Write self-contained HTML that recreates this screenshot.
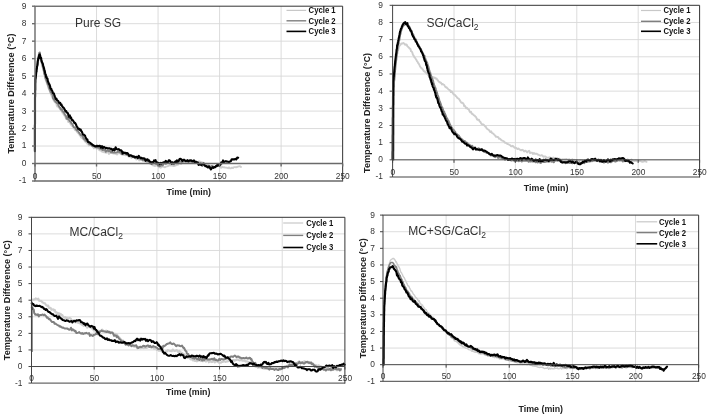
<!DOCTYPE html>
<html><head><meta charset="utf-8"><title>Temperature difference cycles</title>
<style>
html,body{margin:0;padding:0;background:#fff;}
svg{display:block;font-family:"Liberation Sans", sans-serif;}
.g{stroke:#d8d8d8;stroke-width:0.9;}
.f{stroke:#333;stroke-width:1;}
.a{stroke:#555;stroke-width:1;}
.t{font-size:8.4px;fill:#333;}
.b{font-size:9px;font-weight:bold;fill:#222;}
.l{font-size:8.8px;font-weight:bold;fill:#111;}
.h{font-size:12px;fill:#333;}
</style></head><body>
<svg width="708" height="415" viewBox="0 0 708 415">
<rect width="708" height="415" fill="#fff"/>
<g><line x1="35.0" x2="342.65" y1="146.04" y2="146.04" class="g"/>
<line x1="35.0" x2="342.65" y1="128.56" y2="128.56" class="g"/>
<line x1="35.0" x2="342.65" y1="111.08" y2="111.08" class="g"/>
<line x1="35.0" x2="342.65" y1="93.60" y2="93.60" class="g"/>
<line x1="35.0" x2="342.65" y1="76.12" y2="76.12" class="g"/>
<line x1="35.0" x2="342.65" y1="58.64" y2="58.64" class="g"/>
<line x1="35.0" x2="342.65" y1="41.16" y2="41.16" class="g"/>
<line x1="35.0" x2="342.65" y1="23.68" y2="23.68" class="g"/>
<line x1="96.53" x2="96.53" y1="6.2" y2="181.0" class="g"/>
<line x1="158.06" x2="158.06" y1="6.2" y2="181.0" class="g"/>
<line x1="219.59" x2="219.59" y1="6.2" y2="181.0" class="g"/>
<line x1="281.12" x2="281.12" y1="6.2" y2="181.0" class="g"/>
<polyline points="34.9,150.9 34.9,148.7 34.9,147.7 34.9,146.4 34.9,146.5 34.9,143.7 34.9,144.9 34.9,142.5 34.9,142.1 34.9,140.8 34.9,140.8 34.9,137.8 34.9,137.8 34.9,136.7 34.9,136.6 34.9,134.3 34.9,133.8 34.9,132.4 34.9,131.9 34.9,131.2 34.9,129.3 34.9,129.5 34.9,128.4 34.9,127.2 34.9,126.4 35.0,124.5 35.0,123.8 35.0,122.4 35.0,121.7 35.0,121.1 35.0,119.5 35.0,118.6 35.0,117.5 35.0,116.4 35.0,115.5 35.0,114.8 35.0,113.2 35.0,112.9 35.0,112.7 35.0,111.2 35.0,109.7 35.0,108.3 35.0,107.4 35.0,107.7 35.0,105.8 35.0,104.4 35.0,103.9 35.0,103.9 35.0,101.8 35.0,101.1 35.0,99.9 35.0,98.6 35.0,97.1 35.0,96.5 35.1,95.6 35.1,95.0 35.1,94.2 35.1,93.2 35.1,91.9 35.1,91.2 35.2,89.3 35.2,89.4 35.2,88.0 35.2,86.5 35.2,86.0 35.2,84.6 35.2,84.3 35.3,83.5 35.3,82.9 35.3,79.9 35.3,78.9 35.4,78.4 35.6,77.7 35.7,77.1 35.8,75.8 35.9,73.5 36.0,73.5 36.1,73.1 36.2,71.8 36.3,71.1 36.4,69.5 36.6,68.6 36.7,67.8 36.9,66.9 37.0,65.8 37.2,64.8 37.3,63.3 37.5,62.9 37.6,61.8 37.8,61.3 37.9,60.4 38.1,58.8 38.3,57.5 38.5,56.4 38.7,56.0 38.9,54.8 39.1,53.6 39.3,52.8 39.5,53.0 39.7,54.7 39.9,55.1 40.1,57.0 40.3,57.5 40.5,58.6 40.7,58.7 40.9,60.3 41.2,61.6 41.4,61.7 41.6,63.0 41.9,64.2 42.1,64.4 42.3,66.3 42.6,67.5 42.8,67.6 43.1,69.2 43.3,69.3 43.5,71.0 43.8,71.1 44.0,73.6 44.2,74.1 44.5,74.9 44.7,75.4 45.0,77.5 45.2,78.9 45.5,77.7 45.8,80.4 46.1,81.6 46.4,81.8 46.7,82.0 47.0,84.0 47.3,84.4 47.6,85.2 48.0,85.8 48.3,87.7 48.7,88.8 49.0,88.9 49.4,90.5 49.7,90.5 50.1,92.5 50.4,93.0 50.8,93.8 51.2,94.8 51.7,96.2 52.1,97.1 52.5,97.9 52.9,98.6 53.4,99.5 53.8,100.7 54.3,101.3 54.9,102.4 55.5,102.6 56.1,102.3 56.6,105.0 57.2,106.5 57.8,106.3 58.4,106.8 59.0,107.6 59.6,108.5 60.2,109.4 60.7,109.5 61.3,110.7 61.9,111.3 62.5,112.8 63.1,113.3 63.6,114.5 64.2,115.0 64.8,116.4 65.4,116.8 66.0,118.7 66.6,117.3 67.2,118.8 67.8,120.4 68.4,122.1 69.0,121.4 69.6,122.4 70.2,123.0 70.8,124.7 71.4,124.6 72.0,126.0 72.6,126.2 73.2,126.5 73.8,128.1 74.5,129.0 75.1,130.2 75.8,130.2 76.5,130.7 77.1,132.1 77.8,132.7 78.4,133.5 79.1,134.0 79.7,135.5 80.4,135.8 81.0,137.4 81.7,137.8 82.3,138.3 83.0,137.8 83.7,139.7 84.3,140.4 85.0,141.3 85.7,142.2 86.4,142.1 87.1,143.5 87.8,143.4 88.7,145.4 89.5,144.1 90.3,144.4 91.2,145.1 92.0,146.0 93.0,146.3 93.9,148.3 94.8,147.5 95.8,147.3 96.7,149.0 97.6,148.5 98.5,148.6 99.4,150.2 100.3,150.5 101.2,150.4 102.1,151.8 103.1,151.3 104.1,152.4 105.0,152.0 106.0,152.9 107.0,152.3 108.0,151.8 108.9,154.0 109.9,152.6 110.9,153.0 111.9,152.9 112.9,153.4 113.9,153.6 114.9,153.6 115.9,153.9 116.9,154.5 117.9,153.4 118.9,153.0 119.9,153.2 120.9,153.7 121.8,153.3 122.8,154.9 123.8,154.5 124.8,154.9 125.7,155.3 126.7,154.8 127.6,155.4 128.6,156.6 129.6,156.8 130.5,156.5 131.5,158.0 132.5,156.6 133.4,157.4 134.4,157.8 135.4,156.6 136.3,159.5 137.3,158.9 138.3,158.4 139.2,160.4 140.2,159.9 141.2,160.1 142.1,159.8 143.1,160.5 144.0,159.9 145.0,161.4 145.9,161.2 146.8,162.0 147.7,163.0 148.6,163.0 149.5,163.4 150.4,163.8 151.3,163.6 152.3,164.9 153.2,165.6 154.1,165.6 155.1,166.0 156.0,165.3 157.0,165.6 158.0,165.6 158.9,167.4 159.9,166.8 160.9,167.7 161.9,166.5 162.9,166.6 163.9,166.9 164.9,167.3 165.9,166.6 166.9,166.4 167.8,166.1 168.8,165.9 169.8,164.9 170.8,165.6 171.8,165.6 172.8,165.7 173.8,166.1 174.8,165.6 175.7,165.6 176.5,164.9 177.4,164.8 178.2,164.5 179.1,163.0 180.0,163.3 181.0,163.9 181.9,161.8 182.9,162.0 183.9,161.7 184.9,161.9 185.9,162.8 186.9,161.8 187.9,161.3 188.9,162.0 189.9,161.2 190.9,162.1 191.9,161.7 192.9,162.3 193.9,161.1 194.9,163.2 195.9,162.0 196.9,162.1 197.9,161.8 198.9,161.5 199.9,161.5 200.9,162.2 201.8,162.1 202.8,163.0 203.8,162.7 204.7,163.8 205.7,164.3 206.6,163.8 207.5,165.2 208.5,164.8 209.4,165.9 210.3,165.9 211.3,166.6 212.3,165.7 213.2,166.5 214.2,167.7 215.1,166.9 216.1,166.4 217.1,166.3 218.1,165.9 219.1,166.1 220.1,166.9 221.1,167.8 222.1,166.8 223.1,167.4 224.1,167.3 225.1,167.5 226.0,167.6 227.0,167.7 228.0,168.3 229.0,167.3 230.0,168.4 231.0,168.3 232.0,167.6 233.0,168.0 234.0,167.1 235.0,167.1 236.0,167.3 237.0,167.0 238.0,166.7 239.0,166.4 240.0,166.3 241.0,167.0" fill="none" stroke="#cdcdcd" stroke-width="1.9" stroke-linejoin="round" stroke-linecap="round"/>
<polyline points="34.9,149.8 34.9,149.0 34.9,146.8 34.9,147.9 34.9,145.0 34.9,144.5 34.9,144.2 34.9,142.3 34.9,141.4 34.9,140.5 34.9,140.3 34.9,140.2 34.9,138.0 34.9,136.3 34.9,136.2 34.9,134.6 34.9,133.9 34.9,133.6 34.9,131.5 34.9,130.9 34.9,129.4 34.9,128.8 34.9,128.0 34.9,126.3 34.9,125.7 35.0,124.7 35.0,123.5 35.0,122.2 35.0,121.1 35.0,120.8 35.0,119.7 35.0,120.1 35.0,116.5 35.0,116.9 35.0,116.0 35.0,115.6 35.0,114.1 35.0,112.4 35.0,111.8 35.0,111.1 35.0,109.6 35.0,109.2 35.0,106.8 35.0,107.7 35.0,106.6 35.0,104.6 35.0,104.1 35.0,102.8 35.0,101.3 35.0,100.8 35.0,100.3 35.0,98.5 35.0,97.5 35.0,96.7 35.1,96.0 35.1,95.4 35.1,93.4 35.1,93.0 35.1,91.8 35.1,89.7 35.2,89.5 35.2,88.6 35.2,87.7 35.2,86.9 35.2,84.6 35.2,84.7 35.2,83.3 35.3,81.9 35.3,82.0 35.3,81.1 35.3,79.3 35.5,79.1 35.6,77.4 35.7,76.7 35.8,75.1 35.9,75.5 36.0,72.2 36.2,72.6 36.3,72.1 36.4,69.6 36.5,69.6 36.6,68.6 36.8,68.1 37.0,67.4 37.1,65.5 37.3,63.9 37.4,64.5 37.6,63.4 37.7,61.5 37.9,60.9 38.0,59.9 38.2,59.1 38.4,57.9 38.6,57.5 38.8,54.8 39.0,55.4 39.2,54.0 39.4,52.7 39.6,53.4 39.8,52.4 40.0,55.3 40.2,55.9 40.5,56.0 40.7,57.9 40.9,58.5 41.1,61.0 41.3,61.6 41.6,61.8 41.8,62.2 42.0,63.2 42.3,64.3 42.5,65.2 42.7,66.0 43.0,67.1 43.2,68.3 43.5,69.1 43.7,70.0 43.9,70.8 44.2,73.7 44.4,72.5 44.7,73.7 44.9,75.5 45.1,76.0 45.4,77.4 45.7,78.6 46.1,79.8 46.4,80.5 46.7,80.5 47.0,82.6 47.3,81.9 47.6,83.8 47.9,84.5 48.3,85.2 48.7,87.0 49.1,87.5 49.4,89.1 49.8,88.7 50.2,90.9 50.5,91.6 50.9,92.4 51.3,92.4 51.8,94.0 52.2,94.2 52.6,94.8 53.1,98.6 53.5,98.3 53.9,99.6 54.4,99.3 54.9,100.8 55.5,101.6 56.1,102.3 56.7,102.8 57.3,103.5 57.9,103.3 58.5,105.6 59.1,106.3 59.6,107.5 60.2,107.6 60.8,109.5 61.4,109.1 62.0,109.5 62.5,111.5 63.1,111.6 63.7,112.0 64.3,113.5 64.9,114.7 65.5,115.2 66.1,116.2 66.7,118.9 67.3,117.9 67.9,119.1 68.5,118.0 69.1,120.1 69.7,121.2 70.2,121.3 70.8,121.9 71.4,123.4 72.0,123.8 72.6,124.5 73.2,126.2 73.8,127.1 74.5,127.3 75.1,127.7 75.8,129.0 76.4,129.9 77.1,130.6 77.7,130.2 78.4,131.6 79.0,132.7 79.7,133.6 80.3,134.6 81.0,135.3 81.6,135.0 82.3,136.0 82.9,136.5 83.6,138.9 84.3,138.7 85.0,139.7 85.6,140.7 86.3,140.6 87.0,140.9 87.7,142.1 88.5,142.8 89.3,144.3 90.1,144.5 91.0,144.0 91.8,145.5 92.6,146.2 93.5,145.6 94.5,146.5 95.4,145.9 96.3,147.5 97.3,147.5 98.2,147.3 99.1,148.0 100.1,148.9 101.0,148.8 102.0,149.6 102.9,150.1 103.9,149.6 104.9,150.1 105.8,151.7 106.8,150.8 107.8,150.5 108.8,151.2 109.8,150.6 110.8,152.2 111.7,152.0 112.7,152.5 113.7,152.5 114.7,152.3 115.7,152.6 116.7,152.3 117.7,151.8 118.7,151.8 119.7,152.4 120.7,151.5 121.6,154.2 122.6,152.5 123.6,153.6 124.5,153.2 125.5,153.1 126.5,154.5 127.4,154.7 128.4,155.0 129.3,155.7 130.3,155.4 131.3,156.3 132.2,156.6 133.2,156.5 134.1,156.8 135.1,157.5 136.1,157.5 137.1,157.8 138.0,156.6 139.0,158.2 140.0,158.7 140.9,158.7 141.9,159.3 142.9,160.4 143.8,159.7 144.8,160.3 145.7,159.9 146.6,160.3 147.5,161.0 148.4,161.1 149.3,162.1 150.2,162.0 151.2,162.8 152.1,162.3 153.1,162.5 154.1,163.3 155.0,163.4 156.0,163.9 156.9,164.2 157.9,164.7 158.9,165.7 159.8,166.2 160.8,165.7 161.8,164.8 162.7,165.5 163.7,163.6 164.6,163.0 165.6,163.9 166.5,163.4 167.5,162.9 168.4,162.7 169.3,161.4 170.3,161.4 171.2,163.0 172.2,163.2 173.1,162.5 174.1,164.3 175.1,162.9 176.0,162.8 176.9,162.9 177.9,161.7 178.8,161.7 179.7,161.5 180.7,161.3 181.7,162.0 182.7,161.8 183.7,160.9 184.7,161.1 185.7,161.5 186.7,161.3 187.7,160.8 188.7,161.4 189.7,161.5 190.7,160.8 191.7,161.9 192.7,160.8 193.6,161.1 194.6,162.5 195.6,162.0 196.5,162.2 197.5,162.9 198.5,162.9 199.5,163.7 200.4,163.0 201.4,163.8 202.4,166.0 203.3,164.6 204.3,163.8 205.3,165.4 206.2,165.7 207.2,166.5 208.1,166.1 209.1,166.0 210.0,167.5 211.0,167.4 212.0,165.9 213.0,167.2 214.0,166.6 215.0,167.2 216.0,166.3" fill="none" stroke="#808080" stroke-width="1.9" stroke-linejoin="round" stroke-linecap="round"/>
<polyline points="34.9,151.2 34.9,149.3 34.9,148.1 34.9,145.8 34.9,145.8 34.9,144.8 34.9,143.9 34.9,142.6 34.9,141.9 34.9,140.7 34.9,139.1 34.9,139.5 34.9,138.5 34.9,138.1 34.9,136.0 34.9,134.7 34.9,133.6 34.9,131.9 34.9,132.6 34.9,130.2 34.9,129.2 34.9,128.8 34.9,128.9 34.9,127.1 34.9,125.2 35.0,124.4 35.0,124.3 35.0,122.8 35.0,121.4 35.0,120.7 35.0,120.4 35.0,120.2 35.0,117.1 35.0,116.5 35.0,115.4 35.0,113.3 35.0,113.3 35.0,112.2 35.0,112.6 35.0,110.8 35.0,108.8 35.0,109.3 35.0,107.6 35.0,105.7 35.0,105.5 35.0,104.5 35.0,103.3 35.0,102.9 35.0,100.4 35.0,100.7 35.0,100.5 35.0,99.4 35.0,98.5 35.0,97.5 35.1,96.8 35.1,94.1 35.1,94.4 35.1,91.6 35.1,91.4 35.1,89.5 35.2,90.5 35.2,89.6 35.2,87.7 35.2,87.9 35.2,85.3 35.2,84.9 35.2,83.9 35.3,82.1 35.3,82.0 35.3,82.0 35.3,79.1 35.5,79.3 35.6,77.7 35.7,77.9 35.8,76.1 36.0,75.2 36.1,74.2 36.2,72.9 36.4,70.9 36.5,71.7 36.6,68.9 36.8,69.0 36.9,68.2 37.1,66.3 37.3,65.9 37.4,65.6 37.6,63.8 37.7,62.3 37.9,60.0 38.1,60.3 38.2,59.5 38.4,58.6 38.6,57.3 38.9,57.2 39.1,55.6 39.3,54.9 39.5,54.5 39.8,54.4 40.1,55.7 40.4,58.3 40.8,58.4 41.1,57.9 41.4,59.7 41.7,61.0 42.0,62.4 42.3,62.7 42.6,63.2 42.9,64.0 43.2,65.9 43.5,66.6 43.7,67.1 44.0,68.2 44.2,69.1 44.5,70.8 44.8,70.8 45.0,72.6 45.3,73.8 45.5,74.5 45.8,74.6 46.0,77.0 46.4,76.6 46.8,78.3 47.1,78.4 47.5,78.7 47.8,81.0 48.2,81.9 48.5,82.6 48.9,83.8 49.3,84.1 49.7,85.0 50.1,86.3 50.5,88.5 50.9,88.8 51.3,88.8 51.7,90.4 52.1,90.7 52.5,91.6 53.0,93.3 53.4,93.3 53.9,93.5 54.3,94.9 54.8,96.4 55.2,97.4 55.7,99.0 56.3,98.5 57.0,100.2 57.6,100.7 58.3,101.1 58.9,102.5 59.6,103.1 60.2,102.9 60.9,105.0 61.4,104.3 62.0,106.0 62.6,106.7 63.2,107.8 63.8,107.9 64.4,109.2 64.9,109.9 65.5,111.5 66.2,111.1 66.8,112.5 67.4,113.0 68.0,113.2 68.6,116.6 69.2,115.6 69.8,115.4 70.4,118.1 71.0,117.3 71.5,119.1 72.1,120.2 72.7,120.1 73.3,121.0 73.8,121.8 74.4,122.9 75.0,122.7 75.6,123.8 76.3,125.3 76.9,126.8 77.5,127.3 78.1,128.8 78.8,128.9 79.4,128.9 80.0,130.0 80.6,129.5 81.2,131.0 81.9,131.8 82.5,133.4 83.1,134.5 83.7,134.5 84.3,135.2 84.9,135.4 85.5,137.2 86.1,138.2 86.7,139.2 87.3,139.2 87.9,141.8 88.5,142.1 89.0,142.0 89.7,142.5 90.6,143.2 91.4,144.0 92.2,144.5 93.1,145.3 94.1,145.7 95.0,146.3 96.0,146.4 97.0,145.7 98.0,146.3 99.0,145.9 100.0,145.9 101.0,147.6 102.0,146.2 102.9,148.1 103.9,146.8 104.9,147.5 105.8,148.4 106.8,147.9 107.7,148.5 108.7,148.3 109.7,148.4 110.6,148.9 111.6,148.9 112.6,150.4 113.6,149.1 114.6,150.3 115.6,147.3 116.6,149.1 117.6,149.5 118.6,149.1 119.6,150.1 120.4,150.2 121.2,150.3 122.0,151.4 122.7,153.6 123.6,152.4 124.5,152.9 125.4,152.8 126.3,153.6 127.3,153.0 128.2,154.0 129.2,156.0 130.1,155.4 131.1,155.4 132.1,156.0 133.0,156.8 134.0,156.3 135.0,157.5 135.9,157.1 136.9,156.8 137.8,158.2 138.8,155.9 139.7,157.3 140.7,158.2 141.6,157.8 142.6,158.5 143.6,158.3 144.6,158.5 145.6,160.8 146.6,159.6 147.6,159.3 148.4,160.7 149.1,160.4 149.9,161.8 150.7,162.1 151.4,163.5 152.2,162.2 152.9,163.2 153.5,162.0 154.1,160.4 154.7,161.0 155.5,160.1 156.3,162.3 157.1,162.2 157.9,162.9 158.7,163.1 159.5,164.2 160.4,162.8 161.3,163.6 162.2,162.7 163.1,162.9 164.0,162.2 164.9,162.2 165.8,160.9 166.8,162.3 167.7,162.3 168.7,160.4 169.6,160.3 170.3,161.2 171.0,162.5 171.7,163.7 172.4,162.3 173.1,163.4 173.9,163.0 174.6,162.3 175.4,161.3 176.2,162.0 176.9,160.3 177.8,161.6 178.7,160.8 179.6,159.1 180.5,158.8 181.5,159.4 182.4,161.0 183.4,159.9 184.3,159.8 185.3,160.9 186.3,161.0 187.3,160.2 188.3,161.5 189.3,160.4 190.2,160.7 191.1,160.2 192.1,161.1 193.0,161.4 193.9,160.4 194.9,162.4 195.8,161.5 196.7,163.0 197.7,162.4 198.6,164.9 199.6,164.1 200.6,164.8 201.5,165.1 202.5,163.9 203.5,163.6 204.4,165.1 205.4,166.2 206.3,166.1 207.2,167.0 208.1,167.5 209.0,166.3 210.0,167.9 210.9,169.4 211.8,168.1 212.7,167.1 213.6,167.8 214.4,167.1 215.3,167.2 216.2,165.9 217.0,166.0 217.9,164.0 218.8,165.5 219.6,165.4 220.5,164.7 221.3,162.4 222.2,163.1 223.1,160.4 223.9,162.0 224.9,161.7 225.9,161.0 226.9,161.8 227.9,161.6 228.9,162.1 229.9,161.5 230.8,161.2 231.7,159.3 232.6,159.4 233.5,159.3 234.4,159.4 235.3,158.8 236.3,159.5 237.2,157.6 238.2,157.7" fill="none" stroke="#000" stroke-width="2.1" stroke-linejoin="round" stroke-linecap="round"/>

<polyline points="34.5,6.2 342.65,6.2 342.65,181.5" fill="none" class="f"/>
<polyline points="35.0,6.2 35.0,181.0 342.65,181.0" fill="none" stroke="#6a6a6a" stroke-width="1.4"/>
<line x1="35.0" x2="342.65" y1="163.52" y2="163.52" stroke="#6a6a6a" stroke-width="1.4"/>
<line x1="32.0" x2="35.0" y1="181.00" y2="181.00" stroke="#6a6a6a" stroke-width="1.4"/>
<text x="26.3" y="183.4" class="t" text-anchor="end">-1</text>
<line x1="32.0" x2="35.0" y1="163.52" y2="163.52" stroke="#6a6a6a" stroke-width="1.4"/>
<text x="26.3" y="165.9" class="t" text-anchor="end">0</text>
<line x1="32.0" x2="35.0" y1="146.04" y2="146.04" stroke="#6a6a6a" stroke-width="1.4"/>
<text x="26.3" y="148.4" class="t" text-anchor="end">1</text>
<line x1="32.0" x2="35.0" y1="128.56" y2="128.56" stroke="#6a6a6a" stroke-width="1.4"/>
<text x="26.3" y="131.0" class="t" text-anchor="end">2</text>
<line x1="32.0" x2="35.0" y1="111.08" y2="111.08" stroke="#6a6a6a" stroke-width="1.4"/>
<text x="26.3" y="113.5" class="t" text-anchor="end">3</text>
<line x1="32.0" x2="35.0" y1="93.60" y2="93.60" stroke="#6a6a6a" stroke-width="1.4"/>
<text x="26.3" y="96.0" class="t" text-anchor="end">4</text>
<line x1="32.0" x2="35.0" y1="76.12" y2="76.12" stroke="#6a6a6a" stroke-width="1.4"/>
<text x="26.3" y="78.5" class="t" text-anchor="end">5</text>
<line x1="32.0" x2="35.0" y1="58.64" y2="58.64" stroke="#6a6a6a" stroke-width="1.4"/>
<text x="26.3" y="61.0" class="t" text-anchor="end">6</text>
<line x1="32.0" x2="35.0" y1="41.16" y2="41.16" stroke="#6a6a6a" stroke-width="1.4"/>
<text x="26.3" y="43.6" class="t" text-anchor="end">7</text>
<line x1="32.0" x2="35.0" y1="23.68" y2="23.68" stroke="#6a6a6a" stroke-width="1.4"/>
<text x="26.3" y="26.1" class="t" text-anchor="end">8</text>
<line x1="32.0" x2="35.0" y1="6.20" y2="6.20" stroke="#6a6a6a" stroke-width="1.4"/>
<text x="26.3" y="8.6" class="t" text-anchor="end">9</text>
<line x1="35.00" x2="35.00" y1="163.52" y2="166.52" stroke="#6a6a6a" stroke-width="1.4"/>
<text x="35.2" y="178.6" class="t" text-anchor="middle">0</text>
<line x1="96.53" x2="96.53" y1="163.52" y2="166.52" stroke="#6a6a6a" stroke-width="1.4"/>
<text x="96.7" y="178.6" class="t" text-anchor="middle">50</text>
<line x1="158.06" x2="158.06" y1="163.52" y2="166.52" stroke="#6a6a6a" stroke-width="1.4"/>
<text x="158.3" y="178.6" class="t" text-anchor="middle">100</text>
<line x1="219.59" x2="219.59" y1="163.52" y2="166.52" stroke="#6a6a6a" stroke-width="1.4"/>
<text x="219.8" y="178.6" class="t" text-anchor="middle">150</text>
<line x1="281.12" x2="281.12" y1="163.52" y2="166.52" stroke="#6a6a6a" stroke-width="1.4"/>
<text x="281.3" y="178.6" class="t" text-anchor="middle">200</text>
<line x1="342.65" x2="342.65" y1="163.52" y2="166.52" stroke="#6a6a6a" stroke-width="1.4"/>
<text x="342.8" y="178.6" class="t" text-anchor="middle">250</text>
<text x="188.8" y="194.7" class="b" text-anchor="middle" textLength="44.5" lengthAdjust="spacingAndGlyphs">Time (min)</text>
<text transform="translate(13.5,93.6) rotate(-90)" class="b" text-anchor="middle" textLength="120" lengthAdjust="spacingAndGlyphs">Temperature Difference (°C)</text>
<text x="75" y="27" class="h">Pure SG</text>
<line x1="286.5" x2="306.2" y1="10.4" y2="10.4" stroke="#c8c8c8" stroke-width="1.2"/>
<text x="308.6" y="13.3" class="l" textLength="27" lengthAdjust="spacingAndGlyphs">Cycle 1</text>
<line x1="286.5" x2="306.2" y1="20.8" y2="20.8" stroke="#7f7f7f" stroke-width="1.4"/>
<text x="308.6" y="23.7" class="l" textLength="27" lengthAdjust="spacingAndGlyphs">Cycle 2</text>
<line x1="286.5" x2="306.2" y1="31.4" y2="31.4" stroke="#000" stroke-width="1.6"/>
<text x="308.6" y="34.3" class="l" textLength="27" lengthAdjust="spacingAndGlyphs">Cycle 3</text></g>
<g><line x1="392.6" x2="699.6" y1="142.66" y2="142.66" class="g"/>
<line x1="392.6" x2="699.6" y1="125.49" y2="125.49" class="g"/>
<line x1="392.6" x2="699.6" y1="108.32" y2="108.32" class="g"/>
<line x1="392.6" x2="699.6" y1="91.15" y2="91.15" class="g"/>
<line x1="392.6" x2="699.6" y1="73.98" y2="73.98" class="g"/>
<line x1="392.6" x2="699.6" y1="56.81" y2="56.81" class="g"/>
<line x1="392.6" x2="699.6" y1="39.64" y2="39.64" class="g"/>
<line x1="392.6" x2="699.6" y1="22.47" y2="22.47" class="g"/>
<line x1="454.00" x2="454.00" y1="5.3" y2="177.0" class="g"/>
<line x1="515.40" x2="515.40" y1="5.3" y2="177.0" class="g"/>
<line x1="576.80" x2="576.80" y1="5.3" y2="177.0" class="g"/>
<line x1="638.20" x2="638.20" y1="5.3" y2="177.0" class="g"/>
<polyline points="392.6,159.5 392.6,158.7 392.6,157.0 392.6,156.8 392.6,155.3 392.6,153.8 392.6,153.2 392.7,152.7 392.7,151.6 392.7,149.9 392.7,149.7 392.7,148.4 392.7,147.6 392.7,146.6 392.7,144.9 392.7,144.6 392.7,143.1 392.7,143.1 392.7,141.7 392.8,140.4 392.8,139.0 392.8,138.4 392.8,137.5 392.8,135.8 392.8,136.4 392.8,134.6 392.8,134.1 392.8,131.9 392.8,132.1 392.8,129.7 392.8,129.1 392.9,128.6 392.9,127.4 392.9,125.3 392.9,124.8 392.9,124.7 392.9,124.3 392.9,122.7 392.9,121.2 392.9,120.7 392.9,118.8 392.9,118.5 392.9,116.7 392.9,116.3 393.0,115.2 393.0,114.6 393.0,113.1 393.0,112.8 393.0,111.2 393.0,110.6 393.0,109.6 393.0,107.4 393.1,107.3 393.1,106.3 393.1,104.9 393.1,104.3 393.1,102.6 393.2,102.5 393.2,101.5 393.2,100.4 393.2,100.3 393.3,98.4 393.3,97.2 393.3,95.9 393.3,95.3 393.3,93.8 393.4,93.8 393.4,91.9 393.4,91.2 393.4,91.1 393.4,89.7 393.5,88.3 393.5,87.8 393.5,86.1 393.5,85.5 393.6,84.2 393.6,82.7 393.6,82.3 393.7,81.6 393.8,80.0 393.8,78.6 393.9,77.9 394.0,76.1 394.1,75.9 394.2,74.6 394.3,75.0 394.4,72.9 394.4,71.4 394.5,71.5 394.6,70.0 394.7,69.1 394.8,68.2 394.9,67.2 395.0,65.9 395.0,65.5 395.1,64.3 395.2,62.9 395.3,62.0 395.5,60.7 395.6,60.3 395.8,59.5 396.0,58.4 396.2,57.4 396.4,56.1 396.6,55.9 396.7,54.1 396.9,53.2 397.1,52.1 397.3,51.3 397.7,50.2 398.1,50.3 398.5,48.7 398.9,46.8 399.3,46.4 399.7,45.1 400.1,45.2 400.6,44.6 401.5,43.4 402.5,43.6 403.4,42.9 404.3,43.7 405.2,44.8 406.0,44.4 406.7,44.7 407.4,46.3 408.2,46.9 408.9,47.7 409.6,48.5 410.1,48.6 410.5,48.9 411.0,51.2 411.5,51.4 412.0,51.9 412.4,52.8 412.9,54.8 413.4,55.2 413.9,56.2 414.4,57.3 414.8,57.5 415.3,58.2 415.8,59.2 416.4,59.9 416.9,61.1 417.5,61.7 418.0,62.9 418.6,63.5 419.2,64.5 419.7,65.7 420.3,66.8 420.9,67.8 421.4,67.9 422.0,68.8 422.7,69.2 423.4,70.6 424.1,71.5 424.8,71.3 425.5,72.6 426.2,72.8 426.9,73.6 427.6,74.5 428.3,75.0 429.1,76.2 430.0,75.5 430.9,76.3 431.9,76.9 432.8,76.9 433.7,77.9 434.6,77.5 435.6,78.6 436.4,78.4 437.2,79.6 438.0,80.5 438.8,81.9 439.6,82.0 440.4,82.9 441.1,82.8 441.9,84.4 442.7,83.9 443.4,84.6 444.2,84.8 444.9,86.2 445.6,87.3 446.4,87.2 447.1,88.0 447.8,88.7 448.6,89.4 449.3,89.9 450.1,90.3 450.8,92.1 451.6,91.3 452.4,92.4 453.1,93.6 453.9,94.6 454.6,94.7 455.3,95.4 456.0,96.3 456.7,96.9 457.4,98.1 458.1,98.3 458.8,98.8 459.5,99.7 460.1,100.7 460.8,102.0 461.5,102.9 462.2,102.7 462.8,103.0 463.5,103.8 464.2,106.1 464.8,105.7 465.5,106.9 466.2,108.3 466.9,107.8 467.6,108.8 468.3,109.3 469.0,109.8 469.6,111.4 470.3,112.3 471.0,111.7 471.7,113.7 472.5,113.8 473.2,114.7 473.9,115.4 474.6,115.4 475.3,116.6 476.1,117.0 476.8,119.0 477.5,119.8 478.2,119.6 478.9,119.7 479.6,121.5 480.3,121.6 481.0,123.2 481.7,124.0 482.4,124.6 483.1,124.4 483.8,124.8 484.5,125.7 485.3,126.6 486.0,127.0 486.7,128.6 487.4,129.1 488.2,129.5 488.9,130.0 489.7,131.1 490.4,132.1 491.2,131.3 491.9,132.9 492.7,133.3 493.5,133.8 494.2,134.6 495.0,135.4 495.8,136.8 496.6,136.6 497.4,137.0 498.3,137.2 499.1,138.7 499.9,138.6 500.7,139.4 501.5,140.4 502.4,140.6 503.2,141.0 504.1,141.6 504.9,142.7 505.7,142.8 506.6,143.4 507.5,144.0 508.4,144.1 509.3,144.9 510.1,145.1 511.0,146.2 511.9,146.4 512.8,145.8 513.8,146.9 514.7,147.9 515.6,147.7 516.5,148.1 517.4,149.1 518.4,148.5 519.3,149.3 520.3,149.9 521.2,150.4 522.2,149.8 523.1,150.1 524.1,151.5 525.1,150.6 526.1,151.1 527.1,152.4 528.1,151.3 529.1,150.7 530.0,153.1 531.0,152.6 532.0,152.6 532.9,154.0 533.9,153.0 534.8,153.9 535.8,153.6 536.8,153.8 537.7,154.5 538.7,154.9 539.7,155.3 540.6,155.6 541.6,155.1 542.5,155.6 543.5,156.8 544.5,156.4 545.4,156.5 546.4,157.3 547.4,157.6 548.3,157.9 549.3,157.3 550.3,157.6 551.3,158.2 552.3,158.5 553.3,157.5 554.3,158.0 555.3,158.2 556.3,158.8 557.3,158.0 558.3,159.8 559.3,158.7 560.3,159.1 561.3,159.9 562.3,159.3 563.3,159.4 564.3,159.1 565.3,159.5 566.3,158.9 567.3,159.5 568.3,159.6 569.3,159.2 570.3,160.2 571.3,160.1 572.3,159.2 573.3,160.5 574.3,159.8 575.3,160.6 576.3,160.0 577.3,160.3 578.3,160.8 579.3,161.6 580.3,160.0 581.3,160.5 582.3,160.5 583.3,161.1 584.3,160.5 585.3,160.8 586.3,161.2 587.3,160.9 588.3,160.3 589.3,160.3 590.3,160.4 591.3,160.6 592.3,160.2 593.3,160.6 594.3,161.0 595.3,160.6 596.3,160.6 597.4,161.0 598.4,161.3 599.4,160.4 600.4,160.5 601.4,161.5 602.4,160.9 603.4,160.3 604.4,160.8 605.4,161.4 606.4,160.4 607.4,160.2 608.4,160.5 609.4,161.2 610.4,160.2 611.4,160.7 612.4,160.8 613.4,160.6 614.4,160.1 615.4,160.5 616.4,160.3 617.4,160.5 618.4,160.3 619.4,160.1 620.4,159.2 621.4,160.4 622.4,160.1 623.4,159.2 624.4,160.2 625.5,160.4 626.5,160.3 627.5,159.3 628.5,160.1 629.5,160.0 630.5,160.4 631.5,159.5 632.5,160.8 633.5,160.9 634.5,161.0 635.5,160.8 636.5,160.8 637.5,161.3 638.5,161.1 639.5,160.8 640.5,161.2 641.5,161.5 642.5,161.8 643.5,161.6 644.5,161.1 645.5,161.4 646.5,161.8" fill="none" stroke="#cdcdcd" stroke-width="1.9" stroke-linejoin="round" stroke-linecap="round"/>
<polyline points="393.4,159.7 393.4,158.3 393.4,158.6 393.4,156.4 393.4,155.5 393.4,155.2 393.4,153.1 393.4,152.2 393.4,151.6 393.5,150.3 393.5,148.9 393.5,148.4 393.5,147.3 393.5,146.7 393.5,144.7 393.5,144.1 393.5,144.0 393.5,143.3 393.5,140.8 393.5,140.7 393.5,139.0 393.5,138.1 393.5,137.0 393.5,136.2 393.5,135.9 393.6,134.8 393.6,133.5 393.6,132.3 393.6,131.4 393.6,130.4 393.6,129.8 393.6,128.1 393.6,127.4 393.6,126.4 393.6,125.4 393.6,124.5 393.6,123.5 393.6,123.0 393.6,121.4 393.6,121.1 393.6,119.3 393.6,118.2 393.7,117.4 393.7,116.5 393.7,115.5 393.7,115.0 393.7,113.9 393.7,112.6 393.7,111.2 393.7,110.3 393.7,110.0 393.7,108.5 393.7,106.8 393.7,106.0 393.7,105.1 393.8,104.9 393.8,103.3 393.8,103.4 393.8,101.6 393.8,100.4 393.8,99.1 393.8,98.8 393.8,97.2 393.8,96.0 393.9,95.6 393.9,94.3 393.9,93.9 393.9,92.3 393.9,90.0 393.9,90.7 393.9,88.5 393.9,89.0 393.9,88.1 394.0,86.1 394.0,84.8 394.0,83.7 394.0,83.7 394.0,82.2 394.1,81.0 394.2,80.2 394.3,80.2 394.4,78.4 394.5,77.6 394.6,76.6 394.7,75.8 394.7,74.8 394.8,73.0 394.9,72.2 395.0,71.0 395.1,70.0 395.2,69.8 395.3,68.1 395.4,67.3 395.5,66.0 395.6,65.0 395.7,64.7 395.8,63.1 395.9,62.1 396.0,61.5 396.1,60.6 396.3,59.7 396.4,58.4 396.5,56.6 396.6,56.6 396.8,55.6 396.9,54.8 397.0,53.0 397.2,53.5 397.3,50.8 397.4,50.7 397.5,49.4 397.7,48.2 397.8,47.8 397.9,46.3 398.0,44.4 398.2,43.9 398.4,43.6 398.7,43.5 398.9,40.8 399.1,40.5 399.3,40.2 399.5,38.8 399.7,37.4 399.9,35.9 400.1,34.8 400.3,34.3 400.6,33.5 400.8,31.6 401.0,30.9 401.2,30.8 401.5,29.6 401.9,28.5 402.2,27.7 402.6,26.6 402.9,26.4 403.3,25.8 404.0,25.3 404.7,23.9 405.4,23.4 406.2,24.4 407.0,25.1 407.7,25.6 408.3,26.3 408.9,26.3 409.4,26.7 409.9,28.7 410.5,29.1 410.9,30.0 411.4,30.6 411.8,31.3 412.2,33.4 412.7,33.9 413.1,34.1 413.6,35.6 414.0,36.5 414.4,37.5 414.9,39.2 415.3,39.1 415.8,39.4 416.2,40.9 416.6,41.5 417.1,42.9 417.6,43.6 418.1,44.6 418.6,45.0 419.1,46.3 419.5,46.8 420.0,48.2 420.5,48.7 421.0,49.2 421.5,50.8 422.0,51.1 422.4,53.0 422.9,53.4 423.3,54.3 423.7,55.1 424.1,56.0 424.5,55.8 424.9,58.4 425.3,58.4 425.7,60.1 426.0,60.3 426.4,61.4 426.8,62.3 427.2,62.9 427.5,64.2 427.8,65.5 428.1,66.0 428.4,66.6 428.7,67.9 429.0,69.2 429.3,70.6 429.6,71.4 429.9,72.1 430.2,72.5 430.5,74.3 430.8,74.9 431.1,75.7 431.4,77.2 431.7,78.0 432.1,78.9 432.4,79.1 432.7,80.3 433.0,80.7 433.4,82.5 433.7,83.4 434.0,84.8 434.3,85.4 434.7,86.1 435.0,88.1 435.3,87.7 435.6,88.5 435.9,89.8 436.3,91.2 436.6,91.8 436.9,92.7 437.2,93.3 437.5,95.5 437.8,95.5 438.2,96.2 438.5,97.6 438.8,98.2 439.1,99.4 439.4,101.1 439.8,101.3 440.1,102.4 440.4,103.2 440.8,104.2 441.2,105.6 441.6,106.4 441.9,106.9 442.3,107.6 442.7,108.9 443.1,110.2 443.4,110.8 443.8,111.6 444.2,111.8 444.6,114.0 445.0,113.8 445.4,114.8 445.9,116.1 446.3,117.2 446.8,118.1 447.2,118.6 447.7,119.7 448.1,120.5 448.5,120.8 449.0,122.4 449.4,123.1 449.9,124.5 450.3,125.2 450.9,126.5 451.5,127.2 452.1,128.1 452.6,129.1 453.2,129.7 453.8,130.1 454.4,131.6 455.0,131.4 455.5,132.6 456.1,133.8 456.8,134.0 457.6,135.2 458.3,135.2 459.0,136.0 459.7,137.2 460.4,138.0 461.1,138.9 461.8,139.1 462.6,139.9 463.4,140.6 464.2,141.2 464.9,141.0 465.7,142.0 466.5,143.5 467.3,142.9 468.1,144.3 469.0,144.4 469.8,145.6 470.6,145.4 471.5,146.3 472.3,145.9 473.1,147.4 474.0,148.4 474.8,147.7 475.8,149.2 476.8,148.7 477.7,149.3 478.7,148.3 479.6,150.4 480.6,149.8 481.5,150.2 482.5,150.3 483.4,150.8 484.4,152.1 485.3,151.7 486.2,152.7 487.2,152.5 488.1,153.1 489.0,153.2 489.9,154.1 490.8,155.5 491.7,155.1 492.6,155.5 493.5,155.5 494.3,156.7 495.2,157.2 496.2,156.0 497.2,156.3 498.2,158.0 499.2,157.4 500.2,157.4 501.2,157.8 502.2,158.2 503.1,158.4 504.1,158.3 505.0,159.6 506.0,159.0 506.9,158.9 507.9,159.4 508.8,159.9 509.8,160.0 510.8,160.2 511.8,160.6 512.8,159.1 513.8,160.4 514.8,161.3 515.8,161.2 516.8,160.6 517.8,160.6 518.8,161.3 519.8,160.6 520.8,160.5 521.8,161.5 522.8,160.4 523.8,160.8 524.8,160.6 525.7,160.8 526.7,160.5 527.7,160.7 528.7,161.8 529.7,160.8 530.7,161.6 531.7,161.0 532.7,161.5 533.7,161.6 534.7,161.0 535.7,162.3 536.7,161.7 537.7,162.4 538.7,161.5 539.7,162.4 540.7,163.0 541.7,162.1 542.7,161.6 543.7,162.1 544.7,161.9 545.7,161.7 546.7,161.6 547.7,161.4 548.7,161.8 549.7,161.4 550.7,161.1 551.7,161.7 552.7,161.2 553.7,162.3 554.7,160.9 555.7,160.6 556.7,160.5 557.7,160.8 558.7,160.2 559.7,160.2 560.6,161.8 561.6,160.9 562.5,162.4 563.5,162.1 564.4,161.9 565.4,163.2 566.4,162.4 567.4,162.0 568.4,162.5 569.4,163.1 570.4,162.8 571.4,162.9 572.4,163.3 573.4,162.7 574.4,162.9 575.4,162.7 576.4,162.3 577.4,163.0 578.4,163.9 579.4,162.5 580.4,164.1 581.4,163.4 582.3,162.6 583.3,162.7 584.2,163.2 585.2,161.8 586.1,162.1 587.1,162.0 588.1,161.0 589.1,161.5 590.1,161.4 591.1,160.8 592.1,161.2 593.1,160.6 594.0,160.4 595.0,160.0 596.0,160.7 597.0,160.5 598.0,160.7 599.0,160.6 600.0,160.7 601.0,161.1 602.0,162.0 602.9,161.5 603.9,162.6 604.9,162.1 605.9,161.9 606.9,161.3 607.9,162.6 608.9,161.0 609.9,161.9 610.9,162.3 611.9,161.4 612.9,161.0 613.9,161.1 614.9,161.4 615.9,161.4 616.9,160.9 617.9,160.0 618.9,160.2 619.9,160.6 620.9,159.9 621.9,160.4 622.9,161.5 623.9,160.0 624.9,161.2 625.8,160.5 626.8,161.0 627.8,161.3 628.8,160.8" fill="none" stroke="#808080" stroke-width="2.0" stroke-linejoin="round" stroke-linecap="round"/>
<polyline points="392.6,159.3 392.6,158.9 392.6,157.6 392.6,156.0 392.6,154.1 392.6,155.0 392.6,154.1 392.6,151.6 392.6,152.4 392.7,150.2 392.7,150.9 392.7,148.8 392.7,147.3 392.7,147.1 392.7,145.5 392.7,144.5 392.7,143.5 392.7,142.3 392.7,141.8 392.7,140.9 392.7,139.6 392.7,139.4 392.7,136.7 392.7,136.1 392.7,135.8 392.8,133.7 392.8,134.2 392.8,132.8 392.8,131.3 392.8,130.7 392.8,129.0 392.8,127.6 392.8,127.8 392.8,126.9 392.8,125.4 392.8,124.3 392.8,122.2 392.8,121.9 392.8,121.1 392.8,120.5 392.8,120.1 392.8,118.0 392.9,116.9 392.9,116.8 392.9,115.2 392.9,113.6 392.9,114.0 392.9,111.8 392.9,111.0 392.9,109.7 392.9,109.5 392.9,108.9 392.9,107.1 392.9,106.5 393.0,105.0 393.0,105.5 393.0,104.1 393.0,101.9 393.0,101.5 393.0,100.8 393.0,99.5 393.0,97.8 393.0,97.1 393.0,96.6 393.1,95.5 393.1,93.7 393.1,93.5 393.1,91.7 393.1,90.0 393.1,90.3 393.1,89.7 393.1,88.4 393.1,88.0 393.2,87.1 393.2,85.4 393.2,83.8 393.2,83.1 393.2,81.4 393.3,81.1 393.4,80.1 393.5,79.3 393.6,78.8 393.7,76.0 393.8,76.6 393.9,74.9 394.0,74.6 394.1,73.3 394.2,71.6 394.3,71.7 394.3,69.8 394.4,69.5 394.5,67.8 394.6,66.9 394.7,66.2 394.8,66.2 394.9,64.6 395.0,63.2 395.1,63.1 395.2,61.2 395.4,60.0 395.5,58.7 395.6,58.3 395.7,57.3 395.9,55.8 396.0,54.1 396.1,54.1 396.2,53.3 396.4,52.0 396.5,50.7 396.6,49.6 396.8,49.0 396.9,49.0 397.0,47.3 397.1,45.3 397.3,45.6 397.5,44.0 397.7,44.6 397.9,42.1 398.1,41.3 398.3,40.4 398.5,39.5 398.7,38.4 399.0,37.4 399.2,36.3 399.4,35.1 399.6,34.2 399.8,32.8 400.0,32.2 400.2,31.1 400.5,30.3 400.8,29.3 401.2,28.6 401.5,27.9 401.9,26.6 402.2,25.9 402.6,25.0 403.2,23.9 403.8,23.2 404.5,22.7 405.3,22.2 406.0,24.1 406.8,24.1 407.4,23.1 407.9,26.3 408.5,26.2 409.0,28.2 409.5,28.0 410.0,29.3 410.4,30.7 410.9,30.8 411.3,31.6 411.8,33.0 412.2,34.7 412.7,35.5 413.1,36.5 413.5,36.9 414.0,37.8 414.4,39.1 414.9,39.7 415.3,39.8 415.8,41.6 416.3,41.8 416.8,42.5 417.2,43.9 417.7,44.6 418.2,46.0 418.7,46.6 419.2,47.1 419.7,48.2 420.2,48.8 420.7,49.8 421.1,51.5 421.6,51.9 422.0,52.4 422.4,53.4 422.7,54.2 423.1,55.3 423.4,55.6 423.8,57.7 424.1,58.1 424.4,59.6 424.8,60.7 425.1,61.3 425.5,61.5 425.8,62.3 426.1,64.4 426.4,65.4 426.7,65.1 426.9,66.3 427.2,68.4 427.5,68.8 427.7,70.9 428.0,71.0 428.3,72.2 428.5,72.6 428.8,73.4 429.1,73.8 429.4,74.1 429.7,77.1 430.0,77.9 430.3,78.1 430.6,79.9 430.9,79.5 431.3,82.1 431.6,82.5 431.9,84.1 432.2,83.2 432.5,85.9 432.8,86.6 433.1,87.2 433.5,87.5 433.8,89.1 434.1,90.0 434.4,90.5 434.7,91.0 435.0,92.1 435.4,93.4 435.7,95.3 436.0,96.2 436.3,97.5 436.6,97.8 436.9,97.6 437.3,99.0 437.6,99.7 437.9,101.2 438.2,103.0 438.6,103.1 439.0,103.9 439.3,105.3 439.7,106.4 440.1,107.4 440.5,107.3 440.8,108.3 441.2,109.5 441.6,111.0 442.0,111.7 442.3,112.0 442.7,114.5 443.1,114.0 443.6,115.2 444.0,116.1 444.5,116.6 444.9,117.9 445.4,118.9 445.8,119.9 446.2,120.8 446.7,121.3 447.1,121.9 447.6,123.9 448.0,124.1 448.5,125.8 449.0,126.2 449.6,128.3 450.2,127.6 450.8,127.5 451.3,129.1 451.9,130.7 452.5,131.9 453.1,132.7 453.7,132.9 454.3,134.2 455.0,133.5 455.7,134.5 456.4,135.0 457.1,136.5 457.8,137.6 458.5,137.7 459.2,138.6 459.9,138.8 460.7,139.5 461.5,140.4 462.3,141.8 463.1,141.8 463.9,142.5 464.7,143.4 465.4,143.8 466.3,143.6 467.1,145.5 467.9,145.1 468.8,145.7 469.6,146.2 470.4,147.1 471.3,147.2 472.1,148.1 473.0,149.3 474.0,148.1 475.0,147.7 476.0,149.6 476.9,149.2 477.9,149.5 478.9,149.7 479.9,149.4 480.9,150.0 481.8,149.2 482.8,150.5 483.7,150.9 484.7,150.5 485.6,151.1 486.6,151.7 487.4,152.5 488.3,152.7 489.2,154.0 490.1,154.2 490.9,154.7 491.8,153.8 492.7,155.0 493.6,155.7 494.6,155.4 495.6,155.7 496.6,155.3 497.6,155.1 498.6,155.6 499.6,155.6 500.6,155.6 501.5,156.2 502.4,157.1 503.3,157.3 504.3,157.9 505.2,158.1 506.1,158.3 507.0,158.4 508.0,159.8 509.0,159.0 510.0,159.5 511.0,158.9 512.0,158.6 513.0,158.9 514.0,159.5 515.0,158.9 515.9,159.8 516.9,158.9 517.9,158.7 518.9,159.6 519.9,158.3 520.9,158.1 521.9,159.6 522.8,158.2 523.8,158.1 524.8,158.0 525.8,159.1 526.8,159.2 527.8,157.4 528.8,158.9 529.8,159.3 530.8,159.6 531.7,158.7 532.7,159.6 533.7,160.7 534.7,160.5 535.7,159.5 536.7,160.4 537.7,160.0 538.7,161.0 539.7,159.1 540.7,161.2 541.7,160.7 542.7,161.0 543.7,159.7 544.7,160.1 545.7,159.6 546.7,160.3 547.7,160.1 548.7,160.9 549.7,160.2 550.7,158.5 551.7,159.8 552.7,159.6 553.7,160.0 554.7,159.8 555.7,158.9 556.7,159.1 557.7,159.8 558.5,159.3 559.4,160.3 560.2,160.2 561.1,161.9 562.0,162.5 562.8,162.4 563.7,162.2 564.7,162.3 565.7,162.4 566.7,162.2 567.7,162.4 568.7,161.3 569.7,161.3 570.7,161.3 571.7,162.3 572.6,161.4 573.6,162.4 574.6,163.1 575.5,162.1 576.5,162.1 577.4,162.5 578.4,164.0 579.4,164.2 580.3,164.2 581.1,163.1 582.0,163.1 582.8,161.7 583.6,162.2 584.4,161.3 585.2,160.7 586.2,161.3 587.2,159.8 588.2,159.6 589.2,160.3 590.2,160.5 591.2,159.2 592.1,159.0 593.1,159.3 594.1,159.6 595.1,158.7 596.1,159.9 597.1,160.7 598.0,159.8 599.0,159.8 600.0,161.5 601.0,159.8 601.9,161.4 602.9,161.6 603.9,160.2 604.9,161.3 605.9,161.6 606.9,160.5 607.9,159.3 608.9,160.0 609.9,161.4 610.9,159.7 611.9,160.6 612.9,159.2 613.9,159.4 614.8,159.1 615.8,159.2 616.8,159.4 617.8,159.0 618.8,158.3 619.8,158.6 620.8,158.5 621.8,158.2 622.8,158.0 623.7,158.4 624.5,159.4 625.4,160.9 626.3,160.3 627.2,160.8 628.1,160.7 629.0,161.2 629.9,162.7 630.8,162.1 631.8,162.9 632.7,163.5" fill="none" stroke="#000" stroke-width="2.1" stroke-linejoin="round" stroke-linecap="round"/>

<polyline points="392.1,5.3 699.6,5.3 699.6,177.5" fill="none" class="f"/>
<polyline points="392.6,5.3 392.6,177.0 699.6,177.0" fill="none" stroke="#444" stroke-width="1.0"/>
<line x1="392.6" x2="699.6" y1="159.83" y2="159.83" stroke="#444" stroke-width="1.0"/>
<line x1="389.6" x2="392.6" y1="177.00" y2="177.00" stroke="#444" stroke-width="1.0"/>
<text x="383.0" y="179.4" class="t" text-anchor="end">-1</text>
<line x1="389.6" x2="392.6" y1="159.83" y2="159.83" stroke="#444" stroke-width="1.0"/>
<text x="383.0" y="162.2" class="t" text-anchor="end">0</text>
<line x1="389.6" x2="392.6" y1="142.66" y2="142.66" stroke="#444" stroke-width="1.0"/>
<text x="383.0" y="145.1" class="t" text-anchor="end">1</text>
<line x1="389.6" x2="392.6" y1="125.49" y2="125.49" stroke="#444" stroke-width="1.0"/>
<text x="383.0" y="127.9" class="t" text-anchor="end">2</text>
<line x1="389.6" x2="392.6" y1="108.32" y2="108.32" stroke="#444" stroke-width="1.0"/>
<text x="383.0" y="110.7" class="t" text-anchor="end">3</text>
<line x1="389.6" x2="392.6" y1="91.15" y2="91.15" stroke="#444" stroke-width="1.0"/>
<text x="383.0" y="93.5" class="t" text-anchor="end">4</text>
<line x1="389.6" x2="392.6" y1="73.98" y2="73.98" stroke="#444" stroke-width="1.0"/>
<text x="383.0" y="76.4" class="t" text-anchor="end">5</text>
<line x1="389.6" x2="392.6" y1="56.81" y2="56.81" stroke="#444" stroke-width="1.0"/>
<text x="383.0" y="59.2" class="t" text-anchor="end">6</text>
<line x1="389.6" x2="392.6" y1="39.64" y2="39.64" stroke="#444" stroke-width="1.0"/>
<text x="383.0" y="42.0" class="t" text-anchor="end">7</text>
<line x1="389.6" x2="392.6" y1="22.47" y2="22.47" stroke="#444" stroke-width="1.0"/>
<text x="383.0" y="24.9" class="t" text-anchor="end">8</text>
<line x1="389.6" x2="392.6" y1="5.30" y2="5.30" stroke="#444" stroke-width="1.0"/>
<text x="383.0" y="7.7" class="t" text-anchor="end">9</text>
<line x1="392.60" x2="392.60" y1="159.83" y2="162.83" stroke="#444" stroke-width="1.0"/>
<text x="392.8" y="174.8" class="t" text-anchor="middle">0</text>
<line x1="454.00" x2="454.00" y1="159.83" y2="162.83" stroke="#444" stroke-width="1.0"/>
<text x="454.2" y="174.8" class="t" text-anchor="middle">50</text>
<line x1="515.40" x2="515.40" y1="159.83" y2="162.83" stroke="#444" stroke-width="1.0"/>
<text x="515.6" y="174.8" class="t" text-anchor="middle">100</text>
<line x1="576.80" x2="576.80" y1="159.83" y2="162.83" stroke="#444" stroke-width="1.0"/>
<text x="577.0" y="174.8" class="t" text-anchor="middle">150</text>
<line x1="638.20" x2="638.20" y1="159.83" y2="162.83" stroke="#444" stroke-width="1.0"/>
<text x="638.4" y="174.8" class="t" text-anchor="middle">200</text>
<line x1="699.60" x2="699.60" y1="159.83" y2="162.83" stroke="#444" stroke-width="1.0"/>
<text x="699.8" y="174.8" class="t" text-anchor="middle">250</text>
<text x="546.1" y="190.8" class="b" text-anchor="middle" textLength="44.5" lengthAdjust="spacingAndGlyphs">Time (min)</text>
<text transform="translate(370.2,112.9) rotate(-90)" class="b" text-anchor="middle" textLength="120" lengthAdjust="spacingAndGlyphs">Temperature Difference (°C)</text>
<text x="426.5" y="27" class="h">SG/CaCl<tspan dy="3" font-size="8.5">2</tspan></text>
<line x1="641" x2="661" y1="10.5" y2="10.5" stroke="#c8c8c8" stroke-width="1.2"/>
<text x="663.5" y="13.4" class="l" textLength="27" lengthAdjust="spacingAndGlyphs">Cycle 1</text>
<line x1="641" x2="661" y1="21.3" y2="21.3" stroke="#7f7f7f" stroke-width="1.4"/>
<text x="663.5" y="24.2" class="l" textLength="27" lengthAdjust="spacingAndGlyphs">Cycle 2</text>
<line x1="641" x2="661" y1="31.3" y2="31.3" stroke="#000" stroke-width="1.6"/>
<text x="663.5" y="34.2" class="l" textLength="27" lengthAdjust="spacingAndGlyphs">Cycle 3</text></g>
<g><line x1="31.5" x2="344.9" y1="349.94" y2="349.94" class="g"/>
<line x1="31.5" x2="344.9" y1="333.36" y2="333.36" class="g"/>
<line x1="31.5" x2="344.9" y1="316.78" y2="316.78" class="g"/>
<line x1="31.5" x2="344.9" y1="300.20" y2="300.20" class="g"/>
<line x1="31.5" x2="344.9" y1="283.62" y2="283.62" class="g"/>
<line x1="31.5" x2="344.9" y1="267.04" y2="267.04" class="g"/>
<line x1="31.5" x2="344.9" y1="250.46" y2="250.46" class="g"/>
<line x1="31.5" x2="344.9" y1="233.88" y2="233.88" class="g"/>
<line x1="94.18" x2="94.18" y1="217.3" y2="383.1" class="g"/>
<line x1="156.86" x2="156.86" y1="217.3" y2="383.1" class="g"/>
<line x1="219.54" x2="219.54" y1="217.3" y2="383.1" class="g"/>
<line x1="282.22" x2="282.22" y1="217.3" y2="383.1" class="g"/>
<polyline points="31.8,301.1 32.7,299.6 33.7,299.5 34.6,299.4 35.6,298.4 36.5,298.7 37.4,299.2 38.3,298.7 39.2,300.7 40.1,300.9 41.0,300.7 41.8,301.5 42.6,302.5 43.4,302.7 44.2,303.3 45.0,303.2 45.8,304.9 46.6,305.3 47.4,305.9 48.2,305.5 49.0,307.9 49.9,307.7 50.7,308.0 51.5,309.9 52.3,309.4 53.1,309.2 53.9,310.4 54.7,309.9 55.5,312.4 56.3,312.2 57.1,312.6 57.9,314.1 58.8,313.1 59.7,314.8 60.6,313.8 61.5,315.0 62.4,315.1 63.3,317.1 64.2,317.7 65.1,317.0 66.0,318.1 66.9,317.9 67.9,318.6 68.8,318.3 69.7,318.1 70.7,318.4 71.6,320.0 72.6,321.3 73.5,320.6 74.4,320.6 75.3,322.4 76.2,321.9 77.1,322.3 78.0,322.8 78.9,323.0 79.8,323.4 80.7,323.2 81.6,324.7 82.5,324.8 83.5,325.9 84.4,325.4 85.3,324.9 86.3,326.2 87.2,327.6 88.1,326.8 89.1,326.9 90.0,327.1 90.9,327.5 91.8,328.4 92.7,328.4 93.6,330.3 94.5,329.8 95.4,330.4 96.3,331.6 97.3,331.8 98.3,330.8 99.3,331.0 100.3,331.1 101.3,330.5 102.3,329.6 103.3,330.9 104.3,331.3 105.3,331.2 106.2,330.6 107.2,331.2 108.2,331.2 109.2,331.5 110.2,332.6 111.2,332.9 112.1,332.9 113.0,333.3 113.9,333.8 114.8,333.8 115.7,334.2 116.6,334.3 117.4,335.2 118.0,337.3 118.6,337.3 119.3,337.4 119.9,338.2 120.5,338.7 121.1,340.2 121.9,340.8 122.8,340.3 123.7,341.8 124.5,341.8 125.4,343.3 126.3,343.1 127.2,344.5 128.1,343.8 129.0,344.3 129.9,345.0 130.8,345.9 131.7,346.0 132.6,345.4 133.6,346.5 134.5,346.7 135.5,346.7 136.5,346.8 137.5,348.3 138.4,347.4 139.4,347.4 140.4,348.3 141.4,348.0 142.4,347.8 143.4,348.1 144.4,347.9 145.4,347.7 146.4,348.0 147.4,347.5 148.4,346.9 149.4,347.0 150.4,346.9 151.3,347.6 152.3,347.3 153.2,347.2 154.1,348.7 155.1,348.3 156.0,348.3 156.9,350.0 157.9,349.7 158.8,350.8 159.7,350.6 160.6,350.8 161.5,351.1 162.4,352.0 163.3,352.6 164.2,352.4 165.1,352.3 166.0,351.1 166.9,351.5 167.8,350.1 168.7,350.5 169.7,350.9 170.7,351.0 171.7,351.3 172.7,349.5 173.7,350.7 174.7,350.9 175.7,350.7 176.6,350.0 177.6,351.1 178.5,352.3 179.4,350.8 180.4,352.3 181.2,353.1 182.0,352.8 182.8,354.1 183.5,353.9 184.3,354.6 185.1,355.3 185.9,356.5 186.7,356.8 187.6,357.8 188.5,357.2 189.4,358.1 190.3,359.2 191.2,359.4 192.1,358.8 193.0,360.4 193.9,360.2 194.9,360.9 195.9,360.9 196.9,361.4 197.9,360.8 198.9,359.7 199.9,359.9 200.9,361.1 201.9,360.6 202.9,361.3 203.9,360.9 204.9,360.5 205.9,361.6 206.9,360.6 207.9,360.0 208.9,362.4 209.9,360.3 210.9,361.8 211.9,362.1 212.9,361.7 213.9,360.8 214.9,362.4 215.9,361.2 216.9,361.3 217.9,362.0 218.9,362.7 219.9,362.6 220.9,362.7 221.9,361.9 222.8,361.9 223.8,361.2 224.8,361.6 225.8,361.9 226.8,361.3 227.8,361.5 228.8,360.6 229.7,360.4 230.7,360.5 231.7,360.1 232.7,360.3 233.6,359.9 234.7,360.8 235.7,359.8 236.7,359.9 237.7,359.5 238.7,360.1 239.7,360.5 240.7,359.8 241.7,360.3 242.7,360.8 243.6,360.6 244.6,360.5 245.6,361.6 246.6,361.3 247.6,361.6 248.6,362.2 249.6,362.4 250.4,362.0 251.2,362.5 252.0,363.6 252.8,364.0 253.5,363.7 254.3,366.1 255.1,366.0 256.0,366.8 257.0,366.0 257.9,367.7 258.9,366.9 259.9,367.5 260.8,367.1 261.8,368.0 262.7,368.3 263.7,368.6 264.7,368.8 265.7,368.5 266.7,369.0 267.7,368.1 268.7,367.7 269.7,368.1 270.7,368.4 271.7,368.7 272.7,368.3 273.7,366.8 274.7,367.9 275.7,368.4 276.7,367.6 277.7,367.2 278.7,367.6 279.7,367.0 280.7,367.6 281.7,367.2 282.7,367.8 283.7,367.3 284.7,366.3 285.6,366.8 286.6,366.7 287.6,365.5 288.5,365.3 289.5,364.0 290.4,365.5 291.4,364.4 292.4,363.2 293.3,363.1 294.3,363.7 295.2,363.9 296.2,363.1 297.1,363.1 298.1,362.0 299.1,361.5 300.1,362.7 301.1,362.4 302.1,362.0 303.1,362.7 304.1,361.3 305.1,361.6 306.1,362.3 307.1,362.6 308.0,361.9 308.9,363.2 309.8,362.4 310.8,363.3 311.7,363.4 312.6,363.0 313.5,364.4 314.5,365.2 315.4,364.9 316.3,365.3 317.3,366.5 318.2,365.4 319.2,365.6 320.1,366.4 321.1,366.4 322.0,368.0 323.0,367.6 324.0,367.2 325.0,367.5 326.0,369.6 327.0,367.9 327.9,368.0 328.9,368.8 329.9,369.1 330.9,369.0 331.9,368.5 332.9,368.5 333.9,369.6 334.9,369.3 335.9,368.5 336.9,370.2 337.9,370.1 338.9,369.6 339.9,369.7 340.9,370.1" fill="none" stroke="#cdcdcd" stroke-width="2.1" stroke-linejoin="round" stroke-linecap="round"/>
<polyline points="31.8,307.5 32.3,308.9 32.8,308.1 33.3,309.3 33.8,309.6 34.2,313.1 34.7,313.6 35.2,314.7 36.1,314.4 37.0,315.0 37.9,314.2 38.8,316.4 39.7,314.9 40.7,315.0 41.7,314.9 42.7,314.5 43.7,315.2 44.6,314.6 45.3,315.4 46.0,316.0 46.8,317.6 47.5,317.2 48.2,318.2 48.9,319.2 49.6,318.8 50.4,320.0 51.3,321.1 52.1,322.0 52.9,322.0 53.8,322.1 54.6,323.8 55.4,323.5 56.3,324.2 57.1,324.8 57.9,325.2 58.8,325.5 59.6,326.6 60.4,326.3 61.3,327.2 62.2,327.7 63.2,327.5 64.2,328.2 65.1,328.4 66.1,328.5 67.1,328.5 68.1,329.0 69.1,329.7 70.1,329.5 71.0,327.7 71.9,330.5 72.8,329.3 73.7,329.8 74.6,331.3 75.5,330.9 76.4,333.0 77.3,332.9 78.2,332.6 79.2,332.1 80.2,333.2 81.2,333.7 82.2,333.1 83.2,334.0 84.2,333.3 85.2,333.4 86.2,332.8 87.2,333.5 88.1,333.6 89.0,333.1 89.9,335.9 90.8,334.9 91.7,335.4 92.7,336.0 93.6,335.0 94.6,334.7 95.5,334.4 96.4,333.1 97.2,334.1 98.1,332.9 98.9,331.8 99.8,332.1 100.6,331.3 101.6,330.6 102.6,331.3 103.6,331.3 104.6,331.6 105.6,331.7 106.6,332.1 107.6,331.3 108.5,332.3 109.5,332.0 110.4,333.1 111.4,332.4 112.3,332.4 113.2,333.8 114.1,335.9 115.0,335.6 115.9,335.4 116.8,337.2 117.5,336.3 118.2,337.1 118.8,338.4 119.5,338.9 120.1,339.5 120.7,340.0 121.4,341.0 122.3,342.1 123.2,341.3 124.0,342.1 124.9,343.7 125.8,344.8 126.7,342.9 127.6,344.6 128.6,345.5 129.5,344.7 130.5,344.8 131.5,346.1 132.4,345.3 133.4,345.5 134.4,345.8 135.4,345.6 136.3,345.3 137.3,347.5 138.3,348.0 139.3,347.1 140.3,346.8 141.3,347.1 142.3,346.6 143.3,345.7 144.3,345.9 145.3,346.7 146.3,346.1 147.3,345.5 148.3,345.6 149.3,347.0 150.3,345.7 151.3,347.2 152.3,346.9 153.3,346.1 154.3,346.6 155.3,346.9 156.2,347.4 157.1,347.8 158.0,348.9 158.9,349.0 159.8,348.7 160.7,349.3 161.6,349.0 162.1,348.4 162.7,347.9 163.3,345.8 163.9,346.3 164.8,345.8 165.7,345.1 166.6,344.1 167.4,344.0 168.3,343.4 169.2,343.4 170.2,342.3 171.2,343.6 172.2,344.2 173.2,343.6 174.1,343.8 175.1,344.9 176.1,346.1 177.1,345.3 178.1,345.5 179.0,345.4 180.0,346.1 181.0,346.2 182.0,345.6 182.8,346.9 183.4,347.9 184.0,347.8 184.7,349.2 185.3,350.5 185.9,351.1 186.4,351.4 186.8,353.5 187.3,353.8 187.7,354.0 188.2,353.9 188.8,355.6 189.8,356.2 190.7,356.3 191.6,356.9 192.5,358.2 193.4,358.1 194.4,358.8 195.4,357.5 196.3,358.5 197.3,359.4 198.3,358.4 199.3,360.1 200.3,358.6 201.3,359.1 202.2,360.5 203.2,358.6 204.2,360.1 205.2,358.9 206.2,358.9 207.2,359.5 208.2,359.4 209.2,359.6 210.2,359.2 211.2,359.2 212.2,358.8 213.2,359.7 214.2,358.2 215.2,360.0 216.3,359.8 217.3,360.5 218.3,360.5 219.3,358.9 220.2,359.9 221.2,359.0 222.2,359.0 223.2,359.6 224.2,359.3 225.2,359.1 226.2,358.5 227.1,358.4 228.1,357.3 229.0,357.3 230.0,357.6 230.9,356.4 231.9,356.4 232.9,356.9 233.8,356.2 234.8,355.5 235.8,356.3 236.7,357.3 237.6,356.4 238.5,356.5 239.5,357.7 240.4,357.6 241.3,358.2 242.3,358.2 243.3,357.9 244.3,358.3 245.3,358.3 246.3,357.5 247.3,358.5 248.3,358.6 249.3,357.7 250.2,357.9 250.7,359.5 251.2,358.8 251.7,359.8 252.2,361.1 252.9,362.0 253.7,363.0 254.5,363.3 255.3,362.8 256.1,365.0 256.9,365.6 257.8,365.0 258.6,366.4 259.6,366.0 260.5,366.3 261.5,366.4 262.5,367.9 263.5,366.8 264.4,367.5 265.4,368.1 266.4,367.6 267.3,368.2 268.3,368.5 269.3,369.6 270.3,368.1 271.3,368.9 272.3,369.1 273.3,368.9 274.3,369.9 275.3,369.2 276.3,369.0 277.3,369.8 278.3,370.1 279.3,368.8 280.2,369.4 281.2,369.0 282.1,368.3 283.1,367.6 284.0,368.2 285.0,367.7 285.9,366.5 286.9,366.4 287.8,367.4 288.8,365.7 289.7,364.6 290.7,365.2 291.6,365.1 292.6,365.1 293.5,364.1 294.4,365.1 295.4,363.4 296.4,363.6 297.4,364.0 298.4,363.3 299.4,361.8 300.4,363.4 301.4,363.0 302.3,362.4 303.4,363.4 304.4,363.4 305.4,362.5 306.4,362.0 307.4,361.8 308.4,362.7 309.3,362.6 310.2,363.3 311.1,362.4 312.0,364.3 312.9,364.0 313.8,365.0 314.7,366.8 315.6,366.1 316.5,367.1 317.4,367.2 318.3,367.8 319.2,368.0 320.1,368.3 321.0,369.4 321.9,368.5 322.8,369.2 323.9,369.8 324.9,369.6 325.9,370.6 326.9,369.5 327.9,369.5 328.9,369.7 329.9,368.7 330.9,370.3 331.9,369.3 332.9,369.8 333.9,368.9 334.9,368.5 335.9,369.2 336.9,369.1 337.9,369.4 338.9,368.8 339.9,370.4 340.9,369.1" fill="none" stroke="#808080" stroke-width="2.0" stroke-linejoin="round" stroke-linecap="round"/>
<polyline points="31.8,303.3 32.5,303.8 33.3,304.0 34.0,305.3 34.8,305.8 35.6,306.1 36.6,305.5 37.6,306.0 38.6,306.0 39.6,305.8 40.6,306.4 41.6,307.1 42.4,306.9 43.2,307.7 44.0,308.9 44.8,308.8 45.6,310.0 46.4,309.2 47.2,310.2 48.0,311.6 48.8,311.9 49.7,312.1 50.5,313.2 51.3,313.5 52.1,314.2 52.9,314.3 53.7,315.2 54.5,315.9 55.3,316.0 56.2,315.6 57.1,317.1 58.0,318.8 59.0,316.4 59.9,317.7 60.9,318.4 61.8,319.1 62.7,319.9 63.7,320.2 64.6,320.7 65.6,321.0 66.5,320.2 67.5,320.8 68.4,320.9 69.4,321.7 70.4,321.4 71.4,321.0 72.4,322.5 73.3,321.2 74.3,320.8 75.3,321.5 76.3,320.3 77.3,320.5 78.3,320.4 79.2,320.1 80.1,320.2 81.0,322.1 81.9,322.2 82.8,322.6 83.7,323.9 84.6,323.4 85.5,325.3 86.4,323.9 87.4,323.5 88.3,325.2 89.3,325.9 90.3,326.8 91.2,325.9 92.2,326.3 93.1,326.7 93.9,328.7 94.5,327.1 95.1,329.1 95.7,329.7 96.3,330.0 97.0,331.1 97.6,332.2 98.2,332.4 98.9,333.6 99.5,334.8 100.1,335.6 100.8,335.7 101.7,336.3 102.5,336.9 103.4,337.8 104.3,337.9 105.2,339.0 106.1,339.1 107.0,338.4 108.0,340.0 108.9,339.3 109.9,340.2 110.9,340.2 111.9,340.9 112.8,340.7 113.8,341.0 114.8,340.2 115.8,342.1 116.8,341.5 117.8,341.5 118.7,342.6 119.7,342.4 120.7,342.4 121.7,342.8 122.7,342.7 123.7,342.2 124.7,342.1 125.7,343.3 126.7,343.4 127.7,343.2 128.7,343.1 129.7,343.4 130.6,343.3 131.6,342.5 132.5,342.4 133.4,341.9 134.3,340.8 135.3,341.1 136.2,339.7 137.1,338.7 138.1,340.2 139.1,339.4 140.1,340.6 141.1,338.7 142.1,339.7 143.1,338.9 144.1,339.3 145.0,338.8 146.0,340.9 147.0,339.7 148.0,341.2 148.9,340.3 149.9,339.9 150.9,340.4 151.8,341.9 152.8,341.2 153.7,341.9 154.7,342.9 155.6,343.0 156.6,342.2 157.4,343.1 158.0,344.9 158.7,344.5 159.3,346.1 159.9,346.5 160.5,346.5 161.0,348.2 161.5,348.6 162.0,349.9 162.5,350.2 163.0,351.9 163.6,352.4 164.2,353.6 165.1,352.9 166.0,353.9 166.9,354.9 167.8,355.5 168.8,355.7 169.7,355.8 170.7,355.0 171.7,355.8 172.7,356.0 173.7,355.9 174.7,356.2 175.7,355.7 176.7,356.1 177.7,355.3 178.7,354.8 179.6,354.2 180.6,355.4 181.5,354.4 182.4,355.0 183.2,355.2 184.1,357.7 185.0,358.1 185.9,357.1 186.8,356.4 187.8,356.7 188.8,356.5 189.8,356.4 190.7,356.6 191.7,355.6 192.7,355.8 193.7,356.2 194.7,356.2 195.7,356.3 196.7,355.8 197.7,356.1 198.7,356.6 199.7,355.6 200.7,356.9 201.7,356.3 202.7,357.3 203.6,356.0 204.6,357.4 205.6,357.1 206.5,358.0 207.2,356.6 207.8,355.4 208.5,355.6 209.2,354.0 210.0,353.2 211.0,353.2 212.0,353.1 212.9,353.0 213.9,352.9 214.9,353.7 215.9,353.6 216.9,353.8 217.9,354.5 218.8,354.1 219.8,354.1 220.7,353.7 221.7,354.5 222.6,355.1 223.5,356.2 224.4,355.6 225.3,357.3 226.2,357.8 227.1,357.3 227.9,357.7 228.7,358.6 229.3,358.9 229.9,359.5 230.5,360.6 231.2,362.0 231.8,361.2 232.7,363.4 233.5,364.4 234.4,364.7 235.3,365.4 236.1,364.2 237.0,364.8 238.0,366.3 239.0,365.7 240.0,366.2 241.0,365.6 242.0,365.9 243.0,365.0 244.0,365.2 245.0,365.7 246.0,365.1 247.0,364.7 247.9,365.0 248.9,363.8 249.9,363.1 250.9,363.4 251.8,363.5 252.8,364.6 253.8,363.5 254.8,364.6 255.8,364.7 256.8,365.1 257.7,365.6 258.7,365.0 259.7,365.8 260.6,364.5 261.5,365.1 262.4,364.2 263.2,362.9 264.1,361.8 265.0,362.5 265.9,361.9 266.7,363.5 267.6,364.0 268.4,362.8 269.3,364.4 270.1,364.3 271.0,364.1 271.9,363.0 272.8,363.1 273.7,363.0 274.6,362.0 275.5,362.2 276.4,361.5 277.3,362.0 278.3,361.4 279.3,361.2 280.3,360.9 281.3,360.6 282.3,361.2 283.3,360.3 284.3,361.1 285.3,360.8 286.3,361.0 287.3,362.1 288.3,361.6 289.3,361.7 290.3,361.2 291.3,361.5 292.2,361.9 292.9,362.1 293.6,362.7 294.3,364.1 295.0,365.4 295.7,364.7 296.4,366.2 297.1,366.5 298.0,367.4 299.0,367.5 300.0,366.8 300.9,367.1 301.9,368.2 302.9,368.2 303.9,368.5 304.9,368.8 305.9,369.0 306.9,370.1 307.8,369.2 308.8,369.2 309.8,369.2 310.8,370.4 311.8,370.4 312.8,369.7 313.7,369.7 314.7,369.9 315.7,371.3 316.6,371.6 317.6,371.2 318.4,369.5 319.3,369.3 320.1,369.7 321.0,368.9 321.8,368.5 322.7,367.8 323.5,367.1 324.4,367.1 325.4,366.6 326.4,365.5 327.4,365.9 328.3,366.1 329.3,365.5 330.3,365.8 331.2,366.4 332.2,365.0 333.1,367.9 334.1,366.2 335.0,366.7 336.0,367.2 336.9,365.8 337.8,366.2 338.8,365.8 339.7,365.1 340.6,365.2 341.6,364.5 342.6,364.7 343.6,363.7 344.6,364.8" fill="none" stroke="#000" stroke-width="2.1" stroke-linejoin="round" stroke-linecap="round"/>
<line x1="31.7" x2="31.7" y1="302" y2="352" stroke="#111" stroke-width="1.5"/>
<polyline points="31.0,217.3 344.9,217.3 344.9,383.6" fill="none" class="f"/>
<polyline points="31.5,217.3 31.5,383.1 344.9,383.1" fill="none" stroke="#444" stroke-width="1.0"/>
<line x1="31.5" x2="344.9" y1="366.52" y2="366.52" stroke="#444" stroke-width="1.0"/>
<line x1="28.5" x2="31.5" y1="383.10" y2="383.10" stroke="#444" stroke-width="1.0"/>
<text x="22.4" y="385.5" class="t" text-anchor="end">-1</text>
<line x1="28.5" x2="31.5" y1="366.52" y2="366.52" stroke="#444" stroke-width="1.0"/>
<text x="22.4" y="368.9" class="t" text-anchor="end">0</text>
<line x1="28.5" x2="31.5" y1="349.94" y2="349.94" stroke="#444" stroke-width="1.0"/>
<text x="22.4" y="352.3" class="t" text-anchor="end">1</text>
<line x1="28.5" x2="31.5" y1="333.36" y2="333.36" stroke="#444" stroke-width="1.0"/>
<text x="22.4" y="335.8" class="t" text-anchor="end">2</text>
<line x1="28.5" x2="31.5" y1="316.78" y2="316.78" stroke="#444" stroke-width="1.0"/>
<text x="22.4" y="319.2" class="t" text-anchor="end">3</text>
<line x1="28.5" x2="31.5" y1="300.20" y2="300.20" stroke="#444" stroke-width="1.0"/>
<text x="22.4" y="302.6" class="t" text-anchor="end">4</text>
<line x1="28.5" x2="31.5" y1="283.62" y2="283.62" stroke="#444" stroke-width="1.0"/>
<text x="22.4" y="286.0" class="t" text-anchor="end">5</text>
<line x1="28.5" x2="31.5" y1="267.04" y2="267.04" stroke="#444" stroke-width="1.0"/>
<text x="22.4" y="269.4" class="t" text-anchor="end">6</text>
<line x1="28.5" x2="31.5" y1="250.46" y2="250.46" stroke="#444" stroke-width="1.0"/>
<text x="22.4" y="252.9" class="t" text-anchor="end">7</text>
<line x1="28.5" x2="31.5" y1="233.88" y2="233.88" stroke="#444" stroke-width="1.0"/>
<text x="22.4" y="236.3" class="t" text-anchor="end">8</text>
<line x1="28.5" x2="31.5" y1="217.30" y2="217.30" stroke="#444" stroke-width="1.0"/>
<text x="22.4" y="219.7" class="t" text-anchor="end">9</text>
<line x1="31.50" x2="31.50" y1="366.52" y2="369.52" stroke="#444" stroke-width="1.0"/>
<text x="31.7" y="380.8" class="t" text-anchor="middle">0</text>
<line x1="94.18" x2="94.18" y1="366.52" y2="369.52" stroke="#444" stroke-width="1.0"/>
<text x="94.4" y="380.8" class="t" text-anchor="middle">50</text>
<line x1="156.86" x2="156.86" y1="366.52" y2="369.52" stroke="#444" stroke-width="1.0"/>
<text x="157.1" y="380.8" class="t" text-anchor="middle">100</text>
<line x1="219.54" x2="219.54" y1="366.52" y2="369.52" stroke="#444" stroke-width="1.0"/>
<text x="219.7" y="380.8" class="t" text-anchor="middle">150</text>
<line x1="282.22" x2="282.22" y1="366.52" y2="369.52" stroke="#444" stroke-width="1.0"/>
<text x="282.4" y="380.8" class="t" text-anchor="middle">200</text>
<line x1="344.90" x2="344.90" y1="366.52" y2="369.52" stroke="#444" stroke-width="1.0"/>
<text x="345.1" y="380.8" class="t" text-anchor="middle">250</text>
<text x="188.2" y="394.9" class="b" text-anchor="middle" textLength="44.5" lengthAdjust="spacingAndGlyphs">Time (min)</text>
<text transform="translate(9.6,300.2) rotate(-90)" class="b" text-anchor="middle" textLength="120" lengthAdjust="spacingAndGlyphs">Temperature Difference (°C)</text>
<text x="69.5" y="235.5" class="h">MC/CaCl<tspan dy="3" font-size="8.5">2</tspan></text>
<line x1="283.2" x2="303.2" y1="223" y2="223" stroke="#c8c8c8" stroke-width="1.2"/>
<text x="306.2" y="225.9" class="l" textLength="27" lengthAdjust="spacingAndGlyphs">Cycle 1</text>
<line x1="283.2" x2="303.2" y1="235.4" y2="235.4" stroke="#7f7f7f" stroke-width="1.4"/>
<text x="306.2" y="238.3" class="l" textLength="27" lengthAdjust="spacingAndGlyphs">Cycle 2</text>
<line x1="283.2" x2="303.2" y1="247.5" y2="247.5" stroke="#000" stroke-width="1.6"/>
<text x="306.2" y="250.4" class="l" textLength="27" lengthAdjust="spacingAndGlyphs">Cycle 3</text></g>
<g><line x1="383.0" x2="698.65" y1="348.06" y2="348.06" class="g"/>
<line x1="383.0" x2="698.65" y1="331.44" y2="331.44" class="g"/>
<line x1="383.0" x2="698.65" y1="314.82" y2="314.82" class="g"/>
<line x1="383.0" x2="698.65" y1="298.20" y2="298.20" class="g"/>
<line x1="383.0" x2="698.65" y1="281.58" y2="281.58" class="g"/>
<line x1="383.0" x2="698.65" y1="264.96" y2="264.96" class="g"/>
<line x1="383.0" x2="698.65" y1="248.34" y2="248.34" class="g"/>
<line x1="383.0" x2="698.65" y1="231.72" y2="231.72" class="g"/>
<line x1="446.13" x2="446.13" y1="215.1" y2="381.3" class="g"/>
<line x1="509.26" x2="509.26" y1="215.1" y2="381.3" class="g"/>
<line x1="572.39" x2="572.39" y1="215.1" y2="381.3" class="g"/>
<line x1="635.52" x2="635.52" y1="215.1" y2="381.3" class="g"/>
<polyline points="383.5,365.0 383.5,363.8 383.5,361.9 383.5,361.5 383.5,360.7 383.5,359.2 383.6,358.6 383.6,357.5 383.6,356.5 383.6,355.4 383.6,354.6 383.6,353.9 383.6,352.1 383.6,351.9 383.6,350.5 383.6,349.6 383.6,348.0 383.6,347.5 383.7,347.0 383.7,345.0 383.7,343.6 383.7,342.7 383.7,342.5 383.7,342.4 383.7,340.9 383.7,340.1 383.7,338.4 383.7,338.0 383.7,336.3 383.8,335.6 383.8,334.3 383.8,333.2 383.8,332.4 383.8,331.2 383.8,330.9 383.8,329.4 383.8,328.5 383.8,327.2 383.9,326.9 383.9,325.1 383.9,324.6 383.9,323.2 383.9,322.0 383.9,321.1 383.9,320.0 384.0,319.2 384.0,318.2 384.0,317.4 384.0,316.5 384.0,315.3 384.0,314.3 384.0,313.4 384.1,312.1 384.1,311.6 384.1,310.6 384.1,309.4 384.1,309.2 384.1,307.7 384.2,306.2 384.2,305.1 384.2,304.2 384.2,303.1 384.2,302.7 384.3,301.0 384.4,300.2 384.4,299.1 384.5,298.7 384.5,296.7 384.6,296.1 384.6,295.2 384.7,294.4 384.7,293.4 384.8,292.2 384.9,291.6 384.9,290.4 385.0,290.2 385.0,287.6 385.1,287.5 385.1,285.8 385.2,284.9 385.3,285.0 385.5,283.9 385.6,281.5 385.7,281.2 385.9,280.2 386.0,278.4 386.2,278.3 386.3,277.4 386.5,276.4 386.6,274.5 386.8,274.7 386.9,273.4 387.1,272.3 387.2,271.0 387.4,270.6 387.7,269.8 388.0,268.2 388.3,267.5 388.6,266.8 388.9,264.8 389.2,264.6 389.5,262.9 389.7,262.3 390.0,261.9 390.3,260.7 390.9,259.8 391.7,259.2 392.4,258.9 393.1,258.4 393.8,258.5 394.5,259.6 395.2,260.1 395.8,262.0 396.2,261.7 396.7,262.7 397.1,263.6 397.6,264.5 398.0,265.6 398.5,266.6 398.9,266.7 399.4,268.0 399.8,268.6 400.3,270.5 400.7,271.9 401.2,272.4 401.6,272.9 402.1,274.1 402.5,274.6 402.9,276.1 403.4,276.6 403.8,277.2 404.3,277.7 404.7,278.8 405.2,280.1 405.6,280.4 406.1,281.6 406.6,283.1 407.1,283.5 407.6,285.2 408.0,285.8 408.5,286.0 409.0,286.4 409.5,287.9 410.0,288.6 410.5,289.8 411.0,291.1 411.6,290.8 412.2,291.9 412.8,293.0 413.4,294.2 414.0,294.7 414.6,295.5 415.2,296.7 415.7,297.2 416.3,297.7 416.9,298.6 417.5,299.1 418.1,300.4 418.7,301.4 419.3,300.6 419.9,303.1 420.5,303.4 421.1,304.4 421.7,305.3 422.4,304.9 423.0,306.1 423.7,307.2 424.3,307.8 425.0,309.0 425.6,309.4 426.3,309.7 426.9,311.4 427.5,312.4 428.2,312.9 428.9,313.1 429.6,314.0 430.3,315.1 431.0,315.8 431.7,316.7 432.4,316.9 433.1,317.1 433.8,318.1 434.5,319.4 435.1,320.2 435.7,321.6 436.3,321.6 436.9,322.4 437.6,323.1 438.2,323.8 438.9,325.0 439.5,325.5 440.2,326.0 440.9,326.4 441.6,327.5 442.3,328.1 443.0,329.5 443.7,330.1 444.4,330.0 445.1,331.6 445.8,331.7 446.5,332.7 447.2,333.8 448.0,333.6 448.7,334.8 449.4,335.0 450.1,335.3 450.8,337.2 451.6,337.5 452.3,337.9 453.0,338.3 453.7,339.5 454.4,340.9 455.2,341.1 456.0,341.4 456.8,341.9 457.6,342.8 458.4,342.7 459.2,344.5 460.0,344.7 460.9,345.6 461.7,345.5 462.5,346.7 463.3,347.1 464.2,346.6 465.1,347.8 466.1,348.3 467.0,348.3 467.9,348.9 468.8,349.6 469.7,349.9 470.6,349.9 471.5,351.0 472.4,351.2 473.4,351.5 474.3,351.8 475.3,352.3 476.2,352.3 477.1,352.4 478.1,352.8 479.0,353.9 480.0,352.9 481.0,354.2 481.9,353.7 482.9,353.8 483.9,354.3 484.9,354.9 485.8,355.5 486.8,354.8 487.8,356.4 488.8,356.4 489.8,356.1 490.7,356.2 491.7,356.1 492.7,357.0 493.7,357.0 494.7,357.7 495.6,357.1 496.6,357.8 497.6,357.8 498.6,357.7 499.5,359.0 500.5,358.6 501.5,359.0 502.5,358.6 503.4,358.9 504.4,359.5 505.4,359.5 506.4,360.2 507.3,360.4 508.3,360.2 509.3,360.8 510.3,361.0 511.2,361.2 512.2,361.0 513.2,361.3 514.2,361.9 515.2,362.4 516.1,361.8 517.1,362.9 518.1,362.7 519.1,362.3 520.1,363.1 521.1,363.5 522.1,363.5 523.0,364.5 524.0,363.9 525.0,364.3 526.0,364.1 527.0,364.7 528.0,363.5 529.0,364.3 529.9,364.8 530.9,365.4 531.9,365.5 532.9,366.1 533.8,366.0 534.8,366.2 535.8,366.3 536.8,366.6 537.8,367.1 538.7,367.2 539.7,367.5 540.7,367.2 541.7,367.2 542.7,367.5 543.7,368.0 544.7,368.6 545.7,368.2 546.7,368.3 547.7,367.5 548.7,369.3 549.7,367.9 550.7,369.1 551.7,368.2 552.7,368.9 553.7,368.8 554.7,368.5 555.7,368.4 556.7,368.1 557.7,368.5 558.7,368.9 559.7,368.6 560.7,368.1 561.7,369.0 562.7,368.0 563.7,368.6 564.7,368.1 565.7,368.1 566.7,368.8 567.7,368.1 568.7,367.7 569.7,368.0 570.7,368.5 571.7,367.9 572.8,368.6 573.8,368.5 574.8,368.1 575.8,368.5 576.8,368.7 577.8,367.1 578.8,368.4 579.8,368.1 580.8,367.7 581.8,368.1 582.8,367.9 583.8,367.5 584.8,368.3 585.8,367.7 586.8,368.1 587.8,367.5 588.8,366.9 589.8,367.6 590.8,367.4 591.8,367.0 592.8,366.8 593.8,367.7 594.8,367.9 595.8,367.9 596.8,367.6 597.8,367.3 598.8,367.4 599.8,367.3 600.8,367.6 601.8,367.0 602.9,366.7 603.9,367.1 604.9,367.2 605.9,367.0 606.9,367.1 607.9,368.0 608.9,367.4 609.9,366.5 610.9,367.3 611.9,366.1 612.9,367.2 613.9,367.2 614.9,367.0 615.9,366.6 616.9,366.6 617.9,367.2 618.9,366.8 619.9,367.3 620.9,366.8 621.9,366.9 622.9,367.3 623.9,367.0 624.9,366.9 625.9,367.1 626.9,367.2 627.9,367.0 628.9,367.1 630.0,367.0 631.0,367.2 632.0,367.2 633.0,367.3 634.0,367.4 635.0,366.7 636.0,366.7 637.0,367.1 638.0,367.2 639.0,367.5 640.0,366.8 641.0,367.4 642.0,367.6 643.0,366.8 644.0,367.6 645.0,368.1" fill="none" stroke="#cdcdcd" stroke-width="1.4" stroke-linejoin="round" stroke-linecap="round"/>
<polyline points="383.5,365.2 383.5,363.4 383.5,362.3 383.5,360.4 383.5,360.5 383.5,359.4 383.6,358.3 383.6,357.6 383.6,356.6 383.6,355.1 383.6,354.1 383.6,353.3 383.6,352.7 383.6,351.7 383.6,349.9 383.6,349.0 383.6,348.8 383.6,348.1 383.7,346.4 383.7,345.2 383.7,344.9 383.7,343.3 383.7,342.7 383.7,342.1 383.7,340.7 383.7,339.5 383.7,338.7 383.7,337.2 383.7,336.4 383.8,335.2 383.8,334.3 383.8,333.2 383.8,332.3 383.8,331.3 383.8,330.5 383.8,329.4 383.8,328.5 383.8,328.0 383.9,325.8 383.9,325.9 383.9,324.3 383.9,322.9 383.9,322.3 383.9,321.4 384.0,320.8 384.0,319.0 384.0,318.5 384.0,317.4 384.0,315.7 384.0,314.9 384.0,314.6 384.1,313.7 384.1,312.8 384.1,311.6 384.1,310.5 384.1,309.4 384.1,308.8 384.2,307.0 384.2,306.3 384.2,305.5 384.2,303.7 384.3,303.9 384.4,302.0 384.4,301.3 384.5,301.2 384.5,299.0 384.6,298.1 384.6,298.0 384.7,295.9 384.8,295.2 384.8,294.6 384.9,293.5 384.9,292.6 385.0,291.5 385.1,290.9 385.1,289.8 385.2,288.6 385.3,287.1 385.4,286.1 385.5,284.6 385.6,284.6 385.7,282.6 385.8,282.7 386.0,282.1 386.1,280.0 386.2,279.1 386.3,278.2 386.4,277.7 386.5,276.0 386.6,275.3 386.7,274.2 386.9,273.3 387.1,272.9 387.3,271.1 387.6,270.5 387.9,269.6 388.2,268.9 388.4,267.1 388.7,267.1 389.0,265.8 389.2,265.1 389.9,264.0 390.7,262.7 391.5,262.5 392.3,262.5 392.9,262.8 393.6,263.6 394.2,265.1 394.8,266.0 395.4,265.9 395.9,267.6 396.3,266.9 396.7,267.8 397.1,269.9 397.6,270.4 398.0,271.6 398.4,272.5 398.8,273.2 399.3,274.4 399.7,275.1 400.1,275.3 400.5,276.9 400.9,277.8 401.4,279.4 401.8,279.1 402.2,280.5 402.6,281.2 403.1,282.2 403.5,283.9 403.9,284.3 404.3,284.8 404.7,286.0 405.2,287.1 405.6,287.3 406.1,288.5 406.6,290.1 407.2,290.6 407.7,291.1 408.2,291.8 408.8,292.8 409.3,293.1 409.9,294.9 410.4,295.5 411.0,296.2 411.6,296.4 412.3,297.4 412.9,298.7 413.6,299.3 414.2,299.8 414.9,300.9 415.6,301.9 416.2,302.0 416.9,302.8 417.6,303.4 418.3,304.0 419.0,305.5 419.7,306.1 420.3,306.8 421.0,306.9 421.7,307.7 422.4,308.8 423.1,309.4 423.8,310.3 424.5,310.7 425.1,312.0 425.8,313.2 426.5,313.8 427.2,314.6 427.9,314.7 428.6,315.7 429.4,315.8 430.2,317.0 431.0,317.1 431.8,317.6 432.6,318.2 433.3,319.3 434.1,319.8 434.8,320.5 435.4,320.7 436.1,322.0 436.7,322.2 437.3,324.1 438.0,324.3 438.7,325.1 439.4,325.7 440.1,325.8 440.9,326.5 441.6,327.7 442.3,329.0 443.1,328.7 443.8,329.5 444.5,330.5 445.3,330.5 446.0,331.2 446.8,332.3 447.5,333.1 448.3,333.6 449.1,335.0 449.9,335.0 450.6,335.9 451.4,337.0 452.2,337.7 452.9,337.0 453.7,338.1 454.5,339.4 455.3,338.9 456.2,339.6 457.0,340.0 457.9,340.5 458.7,341.1 459.6,342.2 460.4,343.1 461.3,343.7 462.2,343.7 463.0,343.4 463.9,344.6 464.8,344.9 465.7,345.6 466.6,345.9 467.5,345.7 468.4,347.0 469.3,346.5 470.2,347.5 471.1,348.3 472.0,348.8 472.9,349.7 473.8,348.5 474.7,350.1 475.6,350.6 476.5,350.6 477.4,351.5 478.3,351.2 479.3,352.3 480.2,352.6 481.2,352.3 482.1,352.7 483.1,353.2 484.0,353.3 485.0,354.3 485.9,354.2 486.9,355.0 487.9,355.2 488.8,354.9 489.8,355.0 490.8,354.9 491.8,355.2 492.8,355.4 493.8,356.1 494.7,355.8 495.7,356.4 496.7,356.7 497.7,356.6 498.6,357.0 499.6,357.9 500.6,358.2 501.6,357.5 502.5,357.9 503.5,358.1 504.5,358.4 505.5,359.4 506.4,359.3 507.4,359.7 508.4,360.2 509.3,359.6 510.3,359.9 511.3,360.3 512.3,360.9 513.2,360.6 514.2,361.1 515.2,361.5 516.2,361.7 517.2,361.6 518.2,361.3 519.1,361.2 520.1,362.5 521.1,362.2 522.1,361.8 523.1,362.0 524.1,362.1 525.1,361.6 526.1,362.5 527.1,362.1 528.1,362.4 529.1,363.0 530.1,362.8 531.1,363.2 532.1,363.4 533.1,363.4 534.0,363.6 535.0,364.5 536.0,363.9 537.0,364.7 538.0,363.8 539.0,364.6 540.0,364.5 541.0,364.3 542.0,363.6 543.0,365.4 544.0,364.5 545.0,364.7 546.0,365.2 547.0,365.3 548.0,365.5 549.0,365.4 549.9,365.1 550.9,366.1 551.9,365.5 552.9,366.1 553.9,366.3 554.9,366.7 555.9,366.2 556.9,366.3 557.9,366.4 558.9,365.8 559.9,366.4 560.9,366.3 561.9,366.4 562.9,367.0 563.9,366.9 564.9,367.7 565.9,367.8 566.9,366.5 567.9,367.4 568.9,367.0 569.9,367.7 570.9,367.7 571.9,368.1 572.9,367.9 573.9,368.2 574.9,367.8 575.9,367.0 576.9,367.6 577.9,367.8 578.9,368.0 579.9,367.9 580.9,369.0 581.9,368.4 582.9,369.0 583.9,368.3 584.9,369.0 585.9,367.9 586.9,368.5 587.9,367.7 588.9,368.3 589.9,368.8 590.9,367.4 591.9,367.7 592.9,368.1 593.9,367.9 594.9,367.4 595.9,368.4 596.9,367.9 597.9,368.4 598.9,368.0 599.9,367.3 600.9,367.6 601.9,368.3 602.9,367.2 603.9,367.5 604.9,367.9 605.9,368.0 606.9,367.9 607.9,367.0 608.9,368.4 610.0,367.5 611.0,367.5 612.0,367.5 613.0,367.4 614.0,367.0 615.0,367.3 616.0,367.9 617.0,366.8 618.0,366.3 619.0,367.5 620.0,367.4 621.0,367.5 622.0,367.9 623.0,366.9 624.0,367.2 625.0,367.3 626.0,367.6 627.0,367.5 628.0,366.7 629.0,366.5 630.0,366.9 631.0,366.4 632.0,367.6 633.0,367.1 634.0,367.2 635.0,367.0 636.0,368.1 637.0,367.7 638.0,367.5 639.0,368.0 640.0,367.8 641.0,368.2 642.0,368.5 643.0,367.9 644.0,368.1 645.0,368.1 646.0,368.3 647.0,368.0 648.0,367.8 649.0,367.4 650.0,367.8 651.0,367.2 652.0,367.8 653.0,367.6 654.0,367.7 655.0,367.4 656.0,367.3 657.0,367.4 658.0,368.2 659.0,367.8 660.0,367.8 661.0,367.3" fill="none" stroke="#808080" stroke-width="1.5" stroke-linejoin="round" stroke-linecap="round"/>
<polyline points="383.5,364.7 383.5,363.2 383.5,362.6 383.5,360.6 383.5,360.9 383.5,358.7 383.6,358.5 383.6,357.4 383.6,356.1 383.6,356.9 383.6,354.2 383.6,353.7 383.6,353.0 383.6,350.8 383.6,351.1 383.6,349.4 383.6,348.9 383.6,347.0 383.7,345.9 383.7,346.0 383.7,344.7 383.7,343.5 383.7,342.7 383.7,341.7 383.7,339.8 383.7,338.3 383.7,337.6 383.7,336.5 383.7,335.3 383.8,335.1 383.8,334.1 383.8,333.4 383.8,332.5 383.8,331.2 383.8,330.2 383.8,329.4 383.8,327.9 383.8,327.0 383.9,326.4 383.9,325.0 383.9,324.1 383.9,323.3 383.9,323.0 384.0,321.5 384.0,320.2 384.0,319.0 384.0,318.3 384.0,318.4 384.0,314.7 384.1,315.6 384.1,314.4 384.1,313.7 384.1,311.7 384.1,312.3 384.2,310.8 384.2,309.3 384.2,308.4 384.2,306.9 384.3,306.3 384.3,305.2 384.4,304.7 384.5,303.4 384.5,302.2 384.6,301.6 384.6,300.5 384.7,299.4 384.8,297.5 384.8,297.8 384.9,295.7 385.0,294.7 385.0,294.2 385.1,293.5 385.1,292.9 385.2,290.4 385.3,291.0 385.4,290.1 385.6,288.0 385.7,287.2 385.8,286.0 385.9,285.0 386.0,283.6 386.1,282.4 386.3,282.2 386.4,281.4 386.5,281.2 386.6,278.8 386.7,277.2 386.9,277.4 387.1,276.1 387.4,275.5 387.6,274.2 387.9,272.8 388.2,272.1 388.5,271.9 388.8,270.7 389.0,269.1 389.4,269.1 390.2,267.4 391.1,267.2 391.9,267.0 392.6,266.2 393.2,267.1 393.8,268.5 394.4,269.3 395.1,270.0 395.6,270.6 396.1,271.3 396.5,272.3 397.0,275.2 397.4,274.2 397.8,276.2 398.3,276.0 398.7,277.9 399.2,278.7 399.6,279.3 400.1,279.6 400.5,280.1 401.0,282.2 401.4,282.0 401.9,282.9 402.3,285.2 402.8,286.1 403.2,286.2 403.7,287.0 404.1,287.7 404.6,289.1 405.0,289.6 405.5,290.0 406.0,291.2 406.5,292.5 407.1,292.4 407.7,293.5 408.3,294.9 408.9,296.5 409.4,296.6 410.0,297.3 410.6,299.1 411.3,298.3 412.0,299.2 412.7,300.7 413.4,301.5 414.1,301.9 414.9,301.1 415.6,303.5 416.3,304.1 417.0,304.5 417.7,305.5 418.4,306.6 419.1,306.7 419.8,306.9 420.6,307.1 421.3,308.8 422.0,309.1 422.7,309.9 423.4,310.3 424.1,311.8 424.8,312.7 425.5,313.3 426.2,313.2 426.9,314.9 427.6,315.4 428.3,314.6 429.2,316.7 430.0,316.0 430.8,317.0 431.7,318.6 432.5,319.0 433.4,318.9 434.2,319.3 434.9,320.7 435.5,320.4 436.1,322.3 436.8,322.7 437.4,324.0 438.0,324.3 438.8,324.5 439.5,325.8 440.3,326.2 441.0,326.3 441.8,327.1 442.6,327.9 443.3,329.0 444.1,330.1 444.8,330.3 445.6,330.4 446.3,331.5 447.1,332.5 447.9,333.4 448.7,333.0 449.5,334.2 450.3,334.5 451.1,334.2 451.9,335.2 452.7,336.2 453.6,336.8 454.4,337.5 455.2,338.0 456.0,339.0 456.9,338.9 457.7,339.1 458.6,340.7 459.4,340.6 460.3,341.9 461.1,341.6 462.0,343.2 462.8,342.5 463.7,342.9 464.6,344.3 465.5,345.3 466.4,344.5 467.3,346.1 468.2,346.5 469.1,346.6 470.0,346.6 470.9,346.0 471.8,346.8 472.7,347.6 473.6,348.7 474.5,348.8 475.4,349.0 476.3,349.8 477.2,349.4 478.1,350.9 479.0,350.7 480.0,352.1 480.9,351.8 481.9,351.6 482.9,352.0 483.8,351.8 484.8,352.9 485.7,352.6 486.7,353.4 487.7,354.2 488.7,354.1 489.6,354.3 490.6,355.6 491.6,354.8 492.6,355.3 493.6,354.8 494.6,354.5 495.5,355.4 496.5,355.0 497.5,354.3 498.5,356.3 499.4,356.4 500.4,356.0 501.4,357.4 502.4,356.9 503.3,357.0 504.3,357.0 505.3,358.3 506.3,357.7 507.2,358.0 508.2,358.2 509.2,358.3 510.2,358.1 511.1,358.8 512.1,359.0 513.1,360.0 514.1,359.3 515.0,360.5 516.0,360.1 517.0,360.2 518.0,360.8 518.9,361.1 519.9,361.4 520.9,361.6 521.9,361.4 522.9,360.5 523.9,360.9 524.9,362.0 525.9,361.1 526.9,359.9 527.9,361.1 528.9,362.0 529.9,362.0 530.9,361.7 531.8,362.0 532.8,362.4 533.8,362.3 534.8,362.4 535.7,363.7 536.7,362.8 537.7,363.6 538.7,362.5 539.7,363.0 540.7,362.9 541.7,363.8 542.7,363.4 543.7,363.5 544.7,363.4 545.7,364.0 546.7,364.5 547.7,363.8 548.7,364.4 549.7,364.1 550.7,363.9 551.7,364.4 552.7,365.0 553.7,363.0 554.7,364.8 555.7,365.3 556.7,364.4 557.7,365.0 558.7,365.1 559.7,364.9 560.7,364.9 561.7,365.4 562.7,365.4 563.7,365.0 564.7,365.4 565.7,364.9 566.7,365.4 567.7,365.8 568.7,365.9 569.7,365.8 570.6,366.9 571.6,366.7 572.6,367.1 573.6,366.2 574.6,366.8 575.6,366.9 576.5,367.4 577.5,368.5 578.5,369.1 579.5,368.1 580.5,368.3 581.5,368.2 582.5,368.2 583.5,368.8 584.5,367.9 585.4,367.4 586.4,368.1 587.4,367.5 588.4,367.5 589.4,367.3 590.4,367.5 591.4,367.1 592.3,367.1 593.3,366.6 594.3,366.6 595.4,366.8 596.4,366.7 597.4,366.9 598.4,366.8 599.4,367.7 600.4,366.5 601.4,366.9 602.4,366.7 603.4,367.3 604.4,366.2 605.4,366.0 606.4,367.2 607.4,367.0 608.4,366.7 609.4,366.2 610.4,367.2 611.4,366.8 612.4,366.3 613.4,366.3 614.4,366.2 615.4,367.2 616.4,366.4 617.4,365.9 618.4,366.1 619.4,366.9 620.4,366.7 621.5,366.0 622.5,365.7 623.5,366.0 624.5,366.4 625.5,366.0 626.5,365.9 627.5,366.2 628.5,365.9 629.5,365.6 630.5,365.4 631.5,365.8 632.5,366.1 633.5,366.7 634.4,366.8 635.4,366.5 636.4,367.7 637.4,366.7 638.4,367.9 639.4,367.0 640.4,367.6 641.4,368.3 642.4,368.4 643.4,367.4 644.4,367.8 645.4,367.0 646.4,367.4 647.4,367.6 648.4,367.0 649.4,367.9 650.4,367.3 651.4,367.2 652.4,366.5 653.3,366.6 654.3,366.8 655.3,367.3 656.3,367.4 657.3,367.1 658.3,367.0 659.3,367.1 660.2,368.9 661.2,368.7 662.0,369.4 662.8,369.2 663.7,370.5 664.5,369.2 665.3,368.5 666.2,367.6 667.0,366.6" fill="none" stroke="#000" stroke-width="2.2" stroke-linejoin="round" stroke-linecap="round"/>

<polyline points="382.5,215.1 698.65,215.1 698.65,381.8" fill="none" class="f"/>
<polyline points="383.0,215.1 383.0,381.3 698.65,381.3" fill="none" stroke="#444" stroke-width="1.0"/>
<line x1="383.0" x2="698.65" y1="364.68" y2="364.68" stroke="#444" stroke-width="1.0"/>
<line x1="380.0" x2="383.0" y1="381.30" y2="381.30" stroke="#444" stroke-width="1.0"/>
<text x="374.8" y="383.7" class="t" text-anchor="end">-1</text>
<line x1="380.0" x2="383.0" y1="364.68" y2="364.68" stroke="#444" stroke-width="1.0"/>
<text x="374.8" y="367.1" class="t" text-anchor="end">0</text>
<line x1="380.0" x2="383.0" y1="348.06" y2="348.06" stroke="#444" stroke-width="1.0"/>
<text x="374.8" y="350.5" class="t" text-anchor="end">1</text>
<line x1="380.0" x2="383.0" y1="331.44" y2="331.44" stroke="#444" stroke-width="1.0"/>
<text x="374.8" y="333.8" class="t" text-anchor="end">2</text>
<line x1="380.0" x2="383.0" y1="314.82" y2="314.82" stroke="#444" stroke-width="1.0"/>
<text x="374.8" y="317.2" class="t" text-anchor="end">3</text>
<line x1="380.0" x2="383.0" y1="298.20" y2="298.20" stroke="#444" stroke-width="1.0"/>
<text x="374.8" y="300.6" class="t" text-anchor="end">4</text>
<line x1="380.0" x2="383.0" y1="281.58" y2="281.58" stroke="#444" stroke-width="1.0"/>
<text x="374.8" y="284.0" class="t" text-anchor="end">5</text>
<line x1="380.0" x2="383.0" y1="264.96" y2="264.96" stroke="#444" stroke-width="1.0"/>
<text x="374.8" y="267.4" class="t" text-anchor="end">6</text>
<line x1="380.0" x2="383.0" y1="248.34" y2="248.34" stroke="#444" stroke-width="1.0"/>
<text x="374.8" y="250.7" class="t" text-anchor="end">7</text>
<line x1="380.0" x2="383.0" y1="231.72" y2="231.72" stroke="#444" stroke-width="1.0"/>
<text x="374.8" y="234.1" class="t" text-anchor="end">8</text>
<line x1="380.0" x2="383.0" y1="215.10" y2="215.10" stroke="#444" stroke-width="1.0"/>
<text x="374.8" y="217.5" class="t" text-anchor="end">9</text>
<line x1="383.00" x2="383.00" y1="364.68" y2="367.68" stroke="#444" stroke-width="1.0"/>
<text x="383.2" y="379.2" class="t" text-anchor="middle">0</text>
<line x1="446.13" x2="446.13" y1="364.68" y2="367.68" stroke="#444" stroke-width="1.0"/>
<text x="446.3" y="379.2" class="t" text-anchor="middle">50</text>
<line x1="509.26" x2="509.26" y1="364.68" y2="367.68" stroke="#444" stroke-width="1.0"/>
<text x="509.5" y="379.2" class="t" text-anchor="middle">100</text>
<line x1="572.39" x2="572.39" y1="364.68" y2="367.68" stroke="#444" stroke-width="1.0"/>
<text x="572.6" y="379.2" class="t" text-anchor="middle">150</text>
<line x1="635.52" x2="635.52" y1="364.68" y2="367.68" stroke="#444" stroke-width="1.0"/>
<text x="635.7" y="379.2" class="t" text-anchor="middle">200</text>
<line x1="698.65" x2="698.65" y1="364.68" y2="367.68" stroke="#444" stroke-width="1.0"/>
<text x="698.9" y="379.2" class="t" text-anchor="middle">250</text>
<text x="540.8" y="412" class="b" text-anchor="middle" textLength="44.5" lengthAdjust="spacingAndGlyphs">Time (min)</text>
<text transform="translate(365.7,298.2) rotate(-90)" class="b" text-anchor="middle" textLength="120" lengthAdjust="spacingAndGlyphs">Temperature Difference (°C)</text>
<text x="408.2" y="235" class="h">MC+SG/CaCl<tspan dy="3" font-size="8.5">2</tspan></text>
<line x1="636.5" x2="657.2" y1="221.8" y2="221.8" stroke="#c8c8c8" stroke-width="1.2"/>
<text x="659" y="224.7" class="l" textLength="27" lengthAdjust="spacingAndGlyphs">Cycle 1</text>
<line x1="636.5" x2="657.2" y1="232.6" y2="232.6" stroke="#7f7f7f" stroke-width="1.4"/>
<text x="659" y="235.5" class="l" textLength="27" lengthAdjust="spacingAndGlyphs">Cycle 2</text>
<line x1="636.5" x2="657.2" y1="243.8" y2="243.8" stroke="#000" stroke-width="1.6"/>
<text x="659" y="246.7" class="l" textLength="27" lengthAdjust="spacingAndGlyphs">Cycle 3</text></g>
</svg>
</body></html>
